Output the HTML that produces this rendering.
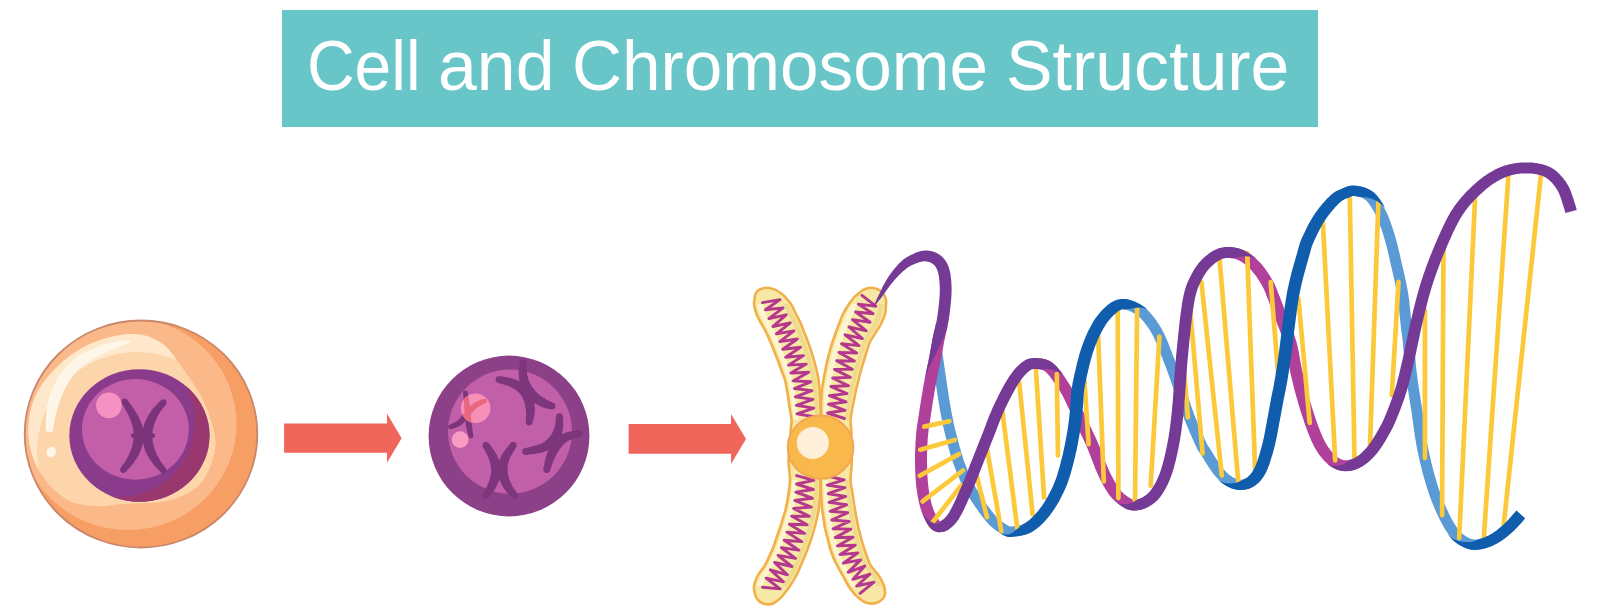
<!DOCTYPE html>
<html><head><meta charset="utf-8">
<title>Cell and Chromosome Structure</title>
<style>
html,body{margin:0;padding:0;background:#fff;}
body{width:1600px;height:614px;position:relative;overflow:hidden;font-family:"Liberation Sans",sans-serif;}
#banner{position:absolute;left:282px;top:10px;width:1036px;height:117px;background:#68c6c9;}
.tw{position:absolute;top:21px;height:90px;line-height:90px;font-size:70px;color:#fff;white-space:nowrap;transform-origin:0 50%;}
svg{position:absolute;left:0;top:0;}
</style></head>
<body>
<div id="banner"></div>
<div id="title"><span class="tw" style="left:307.2px;transform:scaleX(0.942)">Cell</span><span class="tw" style="left:438px;transform:scaleX(0.997)">and</span><span class="tw" style="left:571.7px;transform:scaleX(0.990)">Chromosome</span><span class="tw" style="left:1006px;transform:scaleX(0.998)">Structure</span></div>
<svg width="1600" height="614" viewBox="0 0 1600 614">
<g id="cell1">
<defs><clipPath id="c1clip"><ellipse cx="141" cy="434" rx="116.3" ry="113.5"/></clipPath><clipPath id="c1in"><path d="M28.5 436C27.7 423.5 30.1 408.7 35 397C39.9 385.3 48.8 374.8 58 366C67.2 357.2 78 349.3 90 344C102 338.7 118.3 334.3 130 334C141.7 333.7 151.5 336.7 160 342C168.5 347.3 173.8 356.3 181 366C188.2 375.7 197.3 388.3 203 400C208.7 411.7 213.5 425.7 215 436C216.5 446.3 214.5 454 212 462C209.5 470 205 478.3 200 484C195 489.7 188.7 493 182 496C175.3 499 169.7 500.7 160 502C150.3 503.3 134.8 503.3 124 504C113.2 504.7 104.7 506.8 95 506C85.3 505.2 75.2 504.7 66 499C56.8 493.3 46.2 482.5 40 472C33.8 461.5 29.3 448.5 28.5 436Z"/></clipPath><clipPath id="n1clip"><ellipse cx="139.4" cy="435.5" rx="70.1" ry="66.2"/></clipPath></defs>
<ellipse cx="141" cy="434" rx="116.3" ry="113.5" fill="#f79e65"/>
<g clip-path="url(#c1clip)">
<ellipse cx="128" cy="424" rx="108.5" ry="106" fill="#fbb98a"/>
<path d="M28.5 436C27.7 423.5 30.1 408.7 35 397C39.9 385.3 48.8 374.8 58 366C67.2 357.2 78 349.3 90 344C102 338.7 118.3 334.3 130 334C141.7 333.7 151.5 336.7 160 342C168.5 347.3 173.8 356.3 181 366C188.2 375.7 197.3 388.3 203 400C208.7 411.7 213.5 425.7 215 436C216.5 446.3 214.5 454 212 462C209.5 470 205 478.3 200 484C195 489.7 188.7 493 182 496C175.3 499 169.7 500.7 160 502C150.3 503.3 134.8 503.3 124 504C113.2 504.7 104.7 506.8 95 506C85.3 505.2 75.2 504.7 66 499C56.8 493.3 46.2 482.5 40 472C33.8 461.5 29.3 448.5 28.5 436Z" fill="#fdd5ab"/>
<path clip-path="url(#c1in)" fill-rule="evenodd" fill="#fee7cb" d="M0 280H300V600H0ZM37 452A100 100 0 1 0 237 452A100 100 0 1 0 37 452Z"/>
<path d="M51.7 431.3L52 430.1L52.4 428.6L52.7 426.8L53.1 424.8L53.5 422.7L53.9 420.5L54.4 418.2L54.9 415.8L55.4 413.5L56 411.3L56.6 409.3L57.2 407.4L57.7 405.5L58.3 403.5L58.9 401.6L59.6 399.7L60.2 397.8L60.9 395.9L61.7 394.1L62.5 392.2L63.3 390.4L64.2 388.7L65.1 387L66 385.3L67 383.6L68 381.9L69.1 380.2L70.2 378.5L71.4 376.8L72.5 375.2L73.8 373.6L75 372.1L76.3 370.6L77.6 369.2L79 367.9L80.3 366.6L81.7 365.5L83.1 364.3L84.6 363.2L86.3 362.2L87.9 361.2L89.6 360.2L91.4 359.2L93.1 358.3L94.8 357.4L96.5 356.6L98.2 355.7L99.8 354.9L101.3 354.1L102.7 353.4L104.1 352.7L105.4 352.1L106.8 351.5L108.1 350.9L109.4 350.4L110.7 349.9L112 349.3L113.3 348.8L114.6 348.3L115.8 347.8L117.1 347.2L118.4 346.6L119.7 346L121 345.4L122.4 344.8L123.7 344.2L124.9 343.7L126.1 343.2L127.2 342.7L128.1 342.2L128.9 341.8L129.6 341.4L129.4 341L128.7 341L127.8 341L126.7 341.1L125.6 341.1L124.3 341.2L122.9 341.4L121.5 341.5L120 341.7L118.5 341.9L117.1 342.1L115.6 342.4L114.2 342.6L112.8 342.9L111.5 343.3L110.1 343.6L108.7 344L107.3 344.4L105.9 344.8L104.4 345.3L102.9 345.7L101.4 346.3L99.8 346.8L98.2 347.4L96.6 348.1L95 348.8L93.3 349.5L91.5 350.3L89.6 351.1L87.7 352L85.8 352.9L83.9 353.8L81.9 354.9L80 356L78.1 357.1L76.3 358.4L74.5 359.8L72.8 361.2L71.2 362.7L69.6 364.3L68.1 365.9L66.5 367.6L65.1 369.3L63.7 371.1L62.3 372.9L61 374.7L59.7 376.6L58.5 378.4L57.4 380.3L56.3 382.3L55.3 384.2L54.4 386.3L53.5 388.3L52.6 390.4L51.8 392.4L51.1 394.5L50.4 396.6L49.7 398.7L49.1 400.8L48.5 402.9L48 405L47.6 407.3L47.4 409.8L47.1 412.2L47 414.7L46.8 417.2L46.7 419.7L46.7 422L46.6 424.2L46.6 426.2L46.6 428L46.7 429.5L46.7 430.7Z" fill="#fff6ea" stroke="#fff6ea" stroke-width="1.5" stroke-linejoin="round"/>
<ellipse cx="51.3" cy="452" rx="4.6" ry="5.4" fill="#fff6ea" transform="rotate(20 51.3 452)"/>
</g>
<ellipse cx="141" cy="434" rx="116.3" ry="113.5" fill="none" stroke="#c9876b" stroke-width="1.8"/>
<ellipse cx="139.4" cy="435.5" rx="70.1" ry="66.2" fill="#8b3b8c"/>
<path clip-path="url(#n1clip)" fill-rule="evenodd" fill="#98386f" d="M40 340H240V530H40ZM42.5 421A76 76 0 1 0 194.5 421A76 76 0 1 0 42.5 421Z"/>
<ellipse cx="135.4" cy="429.4" rx="53.4" ry="50.3" fill="#c35fa9"/>
<circle cx="108.9" cy="405.4" r="12.8" fill="#f592c3"/>
<path d="M122 403.4L122.3 404L122.7 404.8L123.2 405.6L123.8 406.6L124.4 407.7L125 408.8L125.7 409.9L126.3 411L126.9 412.2L127.5 413.3L128 414.3L128.5 415.3L128.9 416.3L129.3 417.2L129.8 418.2L130.2 419.2L130.6 420.2L130.9 421.1L131.3 422.1L131.6 423L131.9 423.9L132.1 424.8L132.4 425.6L132.6 426.5L132.8 427.3L133 428.1L133.1 428.8L133.3 429.5L133.4 430.2L133.5 430.9L133.6 431.6L133.6 432.2L133.6 432.9L133.6 433.7L133.6 434.4L133.6 435.3L133.6 436.1L133.5 437.1L133.5 438.1L133.4 439.1L133.3 440.1L133.1 441.1L133 442.2L132.8 443.2L132.6 444.3L132.4 445.3L132.1 446.2L131.9 447.1L131.6 448L131.4 448.9L131 449.9L130.7 450.8L130.3 451.7L129.9 452.6L129.5 453.6L129 454.5L128.5 455.4L128.1 456.4L127.6 457.3L127.1 458.2L126.7 459L126.1 459.9L125.6 460.8L125 461.7L124.3 462.7L123.7 463.6L123.1 464.4L122.5 465.3L122 466L121.5 466.7L121.1 467.4L120.8 467.9L125.6 471.7L126 471.3L126.5 470.9L127.1 470.3L127.8 469.6L128.5 468.8L129.2 468L130 467.1L130.8 466.2L131.6 465.3L132.4 464.3L133.2 463.4L133.9 462.4L134.5 461.5L135.1 460.6L135.8 459.7L136.4 458.7L137 457.7L137.6 456.7L138.2 455.7L138.8 454.6L139.4 453.5L139.9 452.4L140.4 451.2L140.9 450.1L141.3 448.9L141.7 447.7L142 446.4L142.3 445.2L142.5 443.9L142.8 442.7L143 441.4L143.2 440.2L143.3 439L143.4 437.8L143.5 436.7L143.6 435.5L143.6 434.5L143.6 433.4L143.5 432.4L143.4 431.4L143.3 430.4L143.1 429.4L142.9 428.5L142.7 427.5L142.5 426.6L142.2 425.6L142 424.7L141.6 423.7L141.3 422.7L140.8 421.7L140.4 420.7L139.9 419.6L139.4 418.6L138.9 417.6L138.4 416.5L137.8 415.5L137.3 414.5L136.7 413.5L136.1 412.5L135.5 411.5L134.9 410.4L134.1 409.3L133.4 408.2L132.6 407.1L131.8 406L131 404.9L130.2 403.8L129.4 402.9L128.8 402L128.1 401.2L127.6 400.5L127.2 400Z" fill="#7b3379"/>
<circle cx="124.6" cy="401.7" r="3.1" fill="#7b3379"/>
<circle cx="123.2" cy="469.8" r="3.1" fill="#7b3379"/>
<path d="M161 400.4L160.6 400.8L160.1 401.2L159.4 401.8L158.7 402.5L157.9 403.3L157.1 404.1L156.2 405L155.4 405.9L154.5 406.9L153.6 407.8L152.8 408.8L152.1 409.8L151.4 410.7L150.7 411.7L150.1 412.7L149.4 413.7L148.8 414.7L148.2 415.7L147.6 416.8L147 417.8L146.5 418.9L146 420L145.5 421.1L145 422.1L144.6 423.2L144.3 424.2L144 425.3L143.6 426.3L143.4 427.4L143.1 428.5L142.9 429.6L142.7 430.7L142.5 431.9L142.4 433L142.3 434.2L142.3 435.4L142.3 436.6L142.4 437.8L142.5 439.1L142.7 440.3L142.9 441.6L143.1 442.8L143.3 444.1L143.6 445.3L143.9 446.5L144.2 447.7L144.6 448.9L145 450.1L145.4 451.2L145.9 452.4L146.5 453.5L147 454.6L147.6 455.6L148.2 456.7L148.8 457.7L149.4 458.7L150.1 459.6L150.7 460.6L151.4 461.5L152 462.5L152.8 463.5L153.6 464.5L154.4 465.5L155.3 466.5L156.2 467.4L157 468.4L157.9 469.3L158.6 470.1L159.4 470.8L160 471.5L160.6 472L161 472.4L165.8 468.6L165.5 468L165 467.3L164.5 466.6L163.9 465.7L163.2 464.8L162.5 463.9L161.8 462.9L161.1 461.9L160.4 460.9L159.8 459.9L159.3 459L158.8 458.1L158.3 457.2L157.8 456.3L157.3 455.4L156.8 454.5L156.4 453.5L156 452.6L155.6 451.7L155.2 450.8L154.9 449.9L154.5 448.9L154.3 448L154 447.1L153.7 446.2L153.5 445.2L153.3 444.2L153.1 443.2L152.9 442.2L152.7 441.2L152.6 440.2L152.5 439.2L152.4 438.2L152.3 437.2L152.3 436.3L152.3 435.4L152.3 434.5L152.3 433.7L152.4 432.9L152.4 432L152.5 431.2L152.7 430.4L152.8 429.6L153 428.7L153.2 427.9L153.5 427L153.7 426.2L154 425.3L154.2 424.4L154.5 423.5L154.9 422.5L155.2 421.6L155.6 420.7L156 419.7L156.4 418.8L156.9 417.8L157.3 416.9L157.8 416L158.3 415.1L158.7 414.2L159.2 413.4L159.8 412.5L160.4 411.6L161.1 410.7L161.7 409.7L162.4 408.8L163.1 407.9L163.8 407.1L164.4 406.3L164.9 405.6L165.4 405L165.8 404.4Z" fill="#7b3379"/>
<circle cx="163.4" cy="402.4" r="3.1" fill="#7b3379"/>
<circle cx="163.4" cy="470.5" r="3.1" fill="#7b3379"/>
<path d="M133.5 435.4L152.5 435.4" stroke="#7b3379" stroke-width="5" stroke-linecap="round"/>
</g>
<path d="M284.1 423.5H387V413.4L401.6 438.2L387 462.8V452.8H284.1Z" fill="#f1665a"/>
<path d="M628.6 424.1H731V414.1L746 439L731 463.9V453.7H628.6Z" fill="#f1665a"/>
<g id="cell2">
<defs><clipPath id="spotclip"><circle cx="475.6" cy="408.3" r="14.8"/></clipPath></defs>
<circle cx="509" cy="436" r="80.4" fill="#8c4088"/>
<circle cx="510" cy="431.6" r="62" fill="#c25fa9"/>
<path d="M498.2 382.9L498.9 383.1L499.7 383.4L500.6 383.7L501.6 383.9L502.7 384.2L503.9 384.6L505 384.9L506.2 385.3L507.3 385.6L508.3 386L509.3 386.4L510.1 386.8L510.9 387.2L511.8 387.6L512.7 388.1L513.5 388.6L514.3 389.1L515.1 389.6L515.8 390.1L516.6 390.6L517.2 391.1L517.8 391.7L518.4 392.2L518.9 392.7L519.4 393.3L519.9 393.8L520.4 394.4L520.8 394.9L521.3 395.5L521.7 396.1L522.1 396.8L522.4 397.5L522.8 398.1L523.1 398.9L523.4 399.6L523.7 400.4L524 401.1L524.3 401.9L524.5 402.8L524.8 403.7L525 404.7L525.2 405.7L525.4 406.7L525.6 407.7L525.7 408.7L525.8 409.7L525.9 410.6L526 411.5L526.1 412.3L526.1 413.2L526.2 414.1L526.1 415L526.1 415.9L526 416.9L526 417.8L525.9 418.7L525.8 419.5L525.8 420.2L525.7 420.9L525.7 421.5L532.5 422.5L532.6 422L532.8 421.5L533 420.8L533.2 420L533.5 419.1L533.7 418.1L534 417.1L534.2 416L534.4 414.8L534.6 413.7L534.7 412.5L534.8 411.3L534.8 410.2L534.8 409L534.7 407.9L534.6 406.7L534.5 405.5L534.4 404.3L534.2 403.1L534.1 401.8L533.8 400.6L533.6 399.4L533.3 398.2L532.9 397L532.5 396L532.1 394.9L531.6 393.9L531.1 392.9L530.6 391.9L530 391L529.4 390L528.7 389.1L528 388.2L527.3 387.3L526.5 386.5L525.7 385.7L524.8 384.9L523.8 384.2L522.8 383.5L521.8 382.8L520.8 382.2L519.8 381.6L518.7 381.1L517.6 380.6L516.6 380.1L515.5 379.6L514.4 379.2L513.3 378.8L512.1 378.4L510.8 378.1L509.5 377.8L508.1 377.5L506.8 377.3L505.5 377L504.3 376.9L503.1 376.7L502.1 376.5L501.1 376.4L500.4 376.4L499.8 376.3Z" fill="#7d357c"/>
<circle cx="499" cy="379.6" r="3.4" fill="#7d357c"/>
<circle cx="529.1" cy="422" r="3.4" fill="#7d357c"/>
<path d="M520 362.5L519.9 363.1L519.8 363.8L519.6 364.7L519.5 365.7L519.3 366.9L519.1 368.1L519 369.3L518.9 370.7L518.8 372L518.7 373.3L518.7 374.6L518.7 375.9L518.9 377.1L519 378.2L519.2 379.4L519.4 380.5L519.6 381.6L519.9 382.8L520.2 383.9L520.6 385L520.9 386.1L521.3 387.1L521.8 388.2L522.3 389.3L522.8 390.3L523.4 391.3L524 392.3L524.7 393.3L525.4 394.2L526.1 395.1L526.8 396L527.5 396.9L528.3 397.8L529.1 398.6L529.8 399.4L530.7 400.2L531.5 400.9L532.5 401.6L533.4 402.3L534.3 402.9L535.3 403.5L536.2 404.1L537.1 404.6L538 405.1L538.9 405.6L539.8 406L540.6 406.4L541.5 406.8L542.4 407.2L543.4 407.5L544.3 407.8L545.3 408.1L546.2 408.4L547.1 408.6L547.9 408.8L548.7 408.9L549.4 409.1L550 409.2L550.5 409.3L550.9 409.3L553.1 402.9L552.7 402.7L552.2 402.4L551.6 402.1L551 401.8L550.3 401.5L549.6 401.2L548.9 400.9L548.2 400.5L547.4 400.1L546.8 399.8L546.1 399.4L545.5 399L544.8 398.6L544.1 398.1L543.4 397.7L542.6 397.2L541.9 396.7L541.2 396.2L540.5 395.7L539.8 395.2L539.1 394.7L538.5 394.1L537.9 393.6L537.3 393L536.7 392.4L536.1 391.8L535.5 391.2L534.9 390.5L534.4 389.8L533.8 389.1L533.3 388.4L532.7 387.7L532.2 386.9L531.8 386.2L531.3 385.5L530.9 384.7L530.5 384L530.1 383.3L529.7 382.5L529.4 381.7L529 380.9L528.7 380L528.4 379.2L528.1 378.3L527.9 377.5L527.6 376.6L527.4 375.7L527.3 374.9L527.1 374L527 373.1L526.9 372L526.8 370.9L526.8 369.7L526.8 368.6L526.8 367.4L526.8 366.3L526.8 365.3L526.8 364.4L526.8 363.5L526.8 362.9Z" fill="#7d357c"/>
<circle cx="523.4" cy="362.7" r="3.4" fill="#7d357c"/>
<circle cx="552" cy="406.1" r="3.4" fill="#7d357c"/>
<path d="M556 416.6L555.9 417.2L555.8 417.9L555.7 418.8L555.7 419.7L555.6 420.7L555.5 421.7L555.4 422.8L555.3 423.8L555.1 424.8L554.9 425.8L554.7 426.6L554.5 427.4L554.3 428.2L554 429L553.7 429.8L553.4 430.6L553.1 431.3L552.8 432.1L552.4 432.8L552 433.4L551.6 434.1L551.2 434.7L550.8 435.3L550.2 435.9L549.7 436.6L549.2 437.3L548.6 438L548 438.7L547.3 439.3L546.6 440L545.9 440.6L545.2 441.2L544.4 441.8L543.5 442.4L542.7 442.9L541.8 443.4L540.7 443.9L539.5 444.3L538 444.8L536.5 445.3L534.8 445.8L533.1 446.2L531.4 446.6L529.8 447L528.3 447.4L526.9 447.7L525.7 448L524.8 448.3L526.2 454.9L527.1 454.8L528.2 454.7L529.6 454.5L531.1 454.3L532.8 454.1L534.6 453.9L536.4 453.6L538.3 453.2L540.2 452.9L541.9 452.5L543.7 452L545.2 451.4L546.7 450.8L548 450.2L549.2 449.4L550.4 448.7L551.6 447.9L552.6 447.1L553.6 446.3L554.6 445.4L555.5 444.6L556.4 443.7L557.2 442.8L558 441.9L558.7 440.9L559.3 439.8L559.9 438.8L560.4 437.7L560.9 436.6L561.3 435.5L561.6 434.5L562 433.4L562.2 432.3L562.5 431.3L562.7 430.3L562.9 429.2L563.1 428.1L563.2 426.8L563.2 425.6L563.2 424.3L563.2 423.1L563.2 421.9L563.1 420.8L563.1 419.8L563 418.8L562.9 418L562.9 417.3L562.8 416.8Z" fill="#7d357c"/>
<circle cx="559.4" cy="416.7" r="3.4" fill="#7d357c"/>
<circle cx="525.5" cy="451.6" r="3.4" fill="#7d357c"/>
<path d="M578.7 430.3L578.1 430.3L577.4 430.4L576.4 430.5L575.3 430.7L574.1 430.9L572.9 431L571.5 431.3L570.2 431.5L568.9 431.8L567.6 432.1L566.3 432.5L565.1 432.9L564.1 433.3L563.1 433.7L562.2 434.1L561.3 434.6L560.4 435.1L559.5 435.6L558.7 436.2L557.8 436.9L557 437.6L556.2 438.3L555.3 439.1L554.5 440L553.8 441L553 442L552.3 443.1L551.6 444.3L551 445.5L550.3 446.7L549.7 447.9L549 449.1L548.5 450.4L547.9 451.6L547.4 452.8L546.9 454.1L546.4 455.4L546 456.8L545.6 458.2L545.2 459.6L544.9 461.1L544.6 462.5L544.3 463.8L544.1 465L543.8 466.2L543.7 467.2L543.5 468L543.4 468.7L550 470.5L550.2 469.9L550.6 469L550.9 468L551.3 466.9L551.7 465.8L552.1 464.5L552.5 463.3L553 462L553.5 460.8L554 459.6L554.4 458.5L554.9 457.5L555.4 456.5L556 455.5L556.5 454.4L557.1 453.4L557.7 452.3L558.4 451.3L559 450.3L559.6 449.4L560.3 448.5L560.9 447.6L561.5 446.9L562.1 446.2L562.6 445.6L563.1 445L563.5 444.4L564 443.9L564.5 443.5L564.9 443.1L565.4 442.7L565.9 442.3L566.5 441.9L567.1 441.5L567.8 441.1L568.5 440.7L569.2 440.4L570.1 440L571.1 439.6L572.2 439.3L573.3 438.9L574.5 438.6L575.7 438.2L576.8 437.9L577.8 437.7L578.8 437.4L579.6 437.1L580.3 436.9Z" fill="#7d357c"/>
<circle cx="579.5" cy="433.6" r="3.4" fill="#7d357c"/>
<circle cx="546.7" cy="469.6" r="3.4" fill="#7d357c"/>
<path d="M483 447.1L483.3 447.7L483.7 448.5L484.2 449.3L484.7 450.2L485.2 451.2L485.8 452.3L486.4 453.3L486.9 454.4L487.5 455.5L487.9 456.5L488.3 457.5L488.6 458.4L489 459.4L489.3 460.5L489.7 461.5L490 462.6L490.3 463.6L490.5 464.7L490.7 465.7L490.9 466.7L491 467.7L491.1 468.7L491.1 469.6L491.1 470.4L491.1 471.2L491.1 472.1L491 473.1L490.9 474.1L490.7 475.1L490.5 476.1L490.3 477.2L490 478.2L489.7 479.3L489.3 480.3L489 481.4L488.6 482.4L488.3 483.3L487.9 484.3L487.5 485.3L486.9 486.4L486.4 487.5L485.8 488.5L485.2 489.6L484.7 490.6L484.2 491.5L483.7 492.3L483.3 493.1L483 493.7L488.8 497.3L489.2 496.8L489.7 496.3L490.2 495.5L490.9 494.7L491.6 493.8L492.4 492.8L493.1 491.7L493.9 490.6L494.7 489.4L495.4 488.2L496.1 487L496.8 485.8L497.3 484.7L497.8 483.6L498.3 482.4L498.8 481.2L499.2 480L499.7 478.7L500.1 477.4L500.4 476L500.8 474.7L501 473.3L501.2 471.9L501.3 470.4L501.2 468.9L501 467.5L500.8 466.1L500.4 464.8L500.1 463.4L499.7 462.1L499.2 460.8L498.8 459.6L498.3 458.4L497.8 457.2L497.3 456.1L496.8 455L496.1 453.8L495.4 452.6L494.7 451.4L493.9 450.2L493.1 449.1L492.4 448L491.6 447L490.9 446.1L490.2 445.3L489.7 444.5L489.2 444L488.8 443.5Z" fill="#7d357c"/>
<circle cx="485.9" cy="445.3" r="3.4" fill="#7d357c"/>
<circle cx="485.9" cy="495.5" r="3.4" fill="#7d357c"/>
<path d="M510.5 443.4L510 443.9L509.5 444.6L508.8 445.4L508 446.4L507.1 447.4L506.3 448.6L505.3 449.7L504.4 451L503.6 452.2L502.7 453.5L501.9 454.8L501.3 456L500.7 457.2L500.2 458.3L499.8 459.4L499.3 460.6L498.9 461.8L498.6 463L498.3 464.2L498 465.4L497.8 466.7L497.6 468L497.5 469.3L497.5 470.6L497.7 472L497.9 473.3L498.1 474.7L498.5 476L498.9 477.3L499.3 478.6L499.7 479.9L500.2 481.2L500.7 482.4L501.3 483.7L501.8 484.8L502.4 486L503.2 487.2L504 488.5L504.8 489.7L505.7 490.8L506.6 491.9L507.5 493L508.4 494L509.2 494.9L510 495.8L510.7 496.5L511.2 497.1L511.7 497.5L517.1 493.5L516.8 492.9L516.3 492.1L515.7 491.2L515.1 490.3L514.4 489.3L513.7 488.3L513.1 487.2L512.4 486.2L511.8 485.1L511.2 484.1L510.7 483.1L510.4 482.2L510 481.2L509.6 480.2L509.3 479.2L509 478.1L508.7 477.1L508.4 476L508.2 475L508 473.9L507.8 472.9L507.7 472L507.7 471L507.7 470.2L507.6 469.3L507.6 468.5L507.6 467.7L507.6 466.8L507.7 465.9L507.8 465.1L508 464.2L508.2 463.3L508.4 462.4L508.7 461.5L509 460.5L509.3 459.6L509.7 458.6L510.1 457.6L510.7 456.5L511.3 455.4L512 454.2L512.7 453L513.4 451.8L514.1 450.7L514.7 449.7L515.3 448.7L515.8 447.9L516.1 447.2Z" fill="#7d357c"/>
<circle cx="513.3" cy="445.3" r="3.4" fill="#7d357c"/>
<circle cx="514.4" cy="495.5" r="3.4" fill="#7d357c"/>
<path d="M463.1 393.1L463.2 394L463.3 395.1L463.4 396.5L463.5 398L463.6 399.7L463.8 401.4L464 403.2L464.1 405L464.3 406.8L464.4 408.4L464.5 410L464.6 411.4L464.7 412.7L464.9 413.9L465 415.1L465 416.3L465.1 417.5L465.2 418.6L465.3 419.7L465.4 420.8L465.5 421.9L465.6 423L465.7 424.1L465.8 425.2L466.1 426.3L466.3 427.5L466.6 428.6L466.9 429.7L467.1 430.8L467.4 431.9L467.7 432.9L468 433.9L468.2 434.8L468.5 435.5L468.7 436.2L468.8 436.7L473.4 435.7L473.3 435.2L473.2 434.5L473.1 433.7L472.9 432.8L472.8 431.8L472.6 430.8L472.4 429.7L472.3 428.6L472.1 427.6L472 426.5L471.9 425.4L471.8 424.4L471.6 423.4L471.5 422.4L471.4 421.4L471.3 420.3L471.3 419.3L471.2 418.2L471.1 417L471 415.9L470.9 414.7L470.8 413.4L470.7 412.1L470.6 410.8L470.4 409.4L470.1 407.8L469.9 406.1L469.6 404.3L469.3 402.5L469.1 400.8L468.8 399L468.5 397.4L468.3 395.9L468 394.5L467.9 393.4L467.7 392.5Z" fill="#7d357c"/>
<circle cx="465.4" cy="392.8" r="2.3" fill="#7d357c"/>
<circle cx="471.1" cy="436.2" r="2.3" fill="#7d357c"/>
<path d="M451.4 429.1L451.9 429L452.4 428.8L453.1 428.6L453.9 428.3L454.7 428L455.6 427.7L456.6 427.3L457.6 426.9L458.6 426.5L459.6 426L460.6 425.4L461.5 424.8L462.4 424L463.2 423.3L464 422.5L464.7 421.6L465.4 420.8L466.1 420L466.8 419.1L467.4 418.3L468 417.5L468.7 416.8L469.3 416.1L469.9 415.4L470.5 414.7L471.2 413.9L471.8 413.2L472.4 412.5L473.1 411.8L473.7 411.1L474.3 410.5L474.9 409.9L475.5 409.3L476.1 408.7L476.7 408.2L477.3 407.8L477.9 407.3L478.6 406.8L479.3 406.3L480.1 405.9L481 405.4L481.8 405L482.6 404.6L483.4 404.2L484.1 403.8L484.7 403.5L485.3 403.2L485.8 402.9L483.8 398.7L483.4 398.9L482.8 399.1L482.2 399.3L481.4 399.6L480.5 399.9L479.6 400.2L478.7 400.6L477.7 401L476.7 401.5L475.8 402L474.8 402.5L473.9 403L473.1 403.7L472.3 404.3L471.5 404.9L470.8 405.6L470.1 406.3L469.4 407L468.7 407.7L468 408.4L467.3 409.1L466.6 409.8L466 410.5L465.3 411.2L464.6 412L463.9 412.9L463.3 413.7L462.6 414.6L462 415.4L461.4 416.3L460.8 417.1L460.2 417.8L459.6 418.5L459 419.2L458.4 419.7L457.9 420.2L457.3 420.7L456.7 421.2L456 421.6L455.2 422.1L454.4 422.5L453.6 422.9L452.8 423.3L452 423.7L451.3 424L450.6 424.3L450 424.6L449.6 424.9Z" fill="#7d357c"/>
<circle cx="450.5" cy="427" r="2.3" fill="#7d357c"/>
<circle cx="484.8" cy="400.8" r="2.3" fill="#7d357c"/>
<circle cx="475.6" cy="408.3" r="14.8" fill="#f590b6"/>
<g clip-path="url(#spotclip)">
<path d="M463.1 393.1L463.2 394L463.3 395.1L463.4 396.5L463.5 398L463.6 399.7L463.8 401.4L464 403.2L464.1 405L464.3 406.8L464.4 408.4L464.5 410L464.6 411.4L464.7 412.7L464.9 413.9L465 415.1L465 416.3L465.1 417.5L465.2 418.6L465.3 419.7L465.4 420.8L465.5 421.9L465.6 423L465.7 424.1L465.8 425.2L466.1 426.3L466.3 427.5L466.6 428.6L466.9 429.7L467.1 430.8L467.4 431.9L467.7 432.9L468 433.9L468.2 434.8L468.5 435.5L468.7 436.2L468.8 436.7L473.4 435.7L473.3 435.2L473.2 434.5L473.1 433.7L472.9 432.8L472.8 431.8L472.6 430.8L472.4 429.7L472.3 428.6L472.1 427.6L472 426.5L471.9 425.4L471.8 424.4L471.6 423.4L471.5 422.4L471.4 421.4L471.3 420.3L471.3 419.3L471.2 418.2L471.1 417L471 415.9L470.9 414.7L470.8 413.4L470.7 412.1L470.6 410.8L470.4 409.4L470.1 407.8L469.9 406.1L469.6 404.3L469.3 402.5L469.1 400.8L468.8 399L468.5 397.4L468.3 395.9L468 394.5L467.9 393.4L467.7 392.5Z" fill="#e9687f"/>
<circle cx="465.4" cy="392.8" r="2.3" fill="#e9687f"/>
<circle cx="471.1" cy="436.2" r="2.3" fill="#e9687f"/>
<path d="M451.4 429.1L451.9 429L452.4 428.8L453.1 428.6L453.9 428.3L454.7 428L455.6 427.7L456.6 427.3L457.6 426.9L458.6 426.5L459.6 426L460.6 425.4L461.5 424.8L462.4 424L463.2 423.3L464 422.5L464.7 421.6L465.4 420.8L466.1 420L466.8 419.1L467.4 418.3L468 417.5L468.7 416.8L469.3 416.1L469.9 415.4L470.5 414.7L471.2 413.9L471.8 413.2L472.4 412.5L473.1 411.8L473.7 411.1L474.3 410.5L474.9 409.9L475.5 409.3L476.1 408.7L476.7 408.2L477.3 407.8L477.9 407.3L478.6 406.8L479.3 406.3L480.1 405.9L481 405.4L481.8 405L482.6 404.6L483.4 404.2L484.1 403.8L484.7 403.5L485.3 403.2L485.8 402.9L483.8 398.7L483.4 398.9L482.8 399.1L482.2 399.3L481.4 399.6L480.5 399.9L479.6 400.2L478.7 400.6L477.7 401L476.7 401.5L475.8 402L474.8 402.5L473.9 403L473.1 403.7L472.3 404.3L471.5 404.9L470.8 405.6L470.1 406.3L469.4 407L468.7 407.7L468 408.4L467.3 409.1L466.6 409.8L466 410.5L465.3 411.2L464.6 412L463.9 412.9L463.3 413.7L462.6 414.6L462 415.4L461.4 416.3L460.8 417.1L460.2 417.8L459.6 418.5L459 419.2L458.4 419.7L457.9 420.2L457.3 420.7L456.7 421.2L456 421.6L455.2 422.1L454.4 422.5L453.6 422.9L452.8 423.3L452 423.7L451.3 424L450.6 424.3L450 424.6L449.6 424.9Z" fill="#e9687f"/>
<circle cx="450.5" cy="427" r="2.3" fill="#e9687f"/>
<circle cx="484.8" cy="400.8" r="2.3" fill="#e9687f"/>
</g>
<circle cx="460.1" cy="439.6" r="8.4" fill="#f89cc4"/>
</g>
<g id="chromo">
<path d="M791 450C785.9 455 790.3 473.3 790 480C789.7 486.7 789.4 486.7 789 490C788.6 493.3 788.1 496.7 787.5 500C786.9 503.3 786.2 507 785.5 510C784.8 513 783.9 515 783 518C782.1 521 781.1 524.7 780 528C778.9 531.3 777.7 534.7 776.5 538C775.3 541.3 774.3 544.7 773 548C771.7 551.3 769.9 555 768.5 558C767.1 561 766.3 563 764.5 566C762.7 569 759.2 572.7 757.5 576C755.8 579.3 754.4 583 754 586C753.6 589 754.4 591.8 755 594C755.6 596.2 756.3 598 757.5 599.5C758.7 601 760.2 602.2 762 603C763.8 603.8 766 604.5 768 604.5C770 604.5 771.9 604.1 774 603C776.1 601.9 778.8 599.5 780.5 598C782.2 596.5 782.4 596 784 594C785.6 592 788 589 790 586C792 583 794.2 579.3 796 576C797.8 572.7 799.2 569 800.5 566C801.8 563 802.8 561 804 558C805.2 555 806.8 551.3 808 548C809.2 544.7 810.4 541.3 811.5 538C812.6 534.7 813.6 531.3 814.5 528C815.4 524.7 816.3 521 817 518C817.7 515 818.1 513 818.5 510C818.9 507 819.3 503.3 819.6 500C819.9 496.7 820.1 493.3 820.2 490C820.3 486.7 820.4 486.7 820.4 480C820.4 473.3 825.3 455 820.4 450C815.5 445 796.1 445 791 450Z" fill="#f7e8a6" stroke="#f1b04a" stroke-width="2.6" stroke-linejoin="round"/>
<path d="M792.4 480C792.3 481.7 791.9 486.7 791.5 490C791.1 493.3 790.6 496.7 790.1 500C789.5 503.3 788.9 507 788.1 510C787.4 513 786.6 515 785.7 518C784.8 521 783.8 524.7 782.8 528C781.7 531.3 780.5 534.7 779.3 538C778.1 541.3 777.1 544.7 775.8 548C774.5 551.3 772.7 555 771.3 558C769.9 561 769.2 563 767.4 566C765.6 569 762.3 572.7 760.6 576C758.8 579.3 757.5 584.3 756.9 586L762.6 586C763.3 584.3 765 579.3 766.7 576C768.5 572.7 771.4 569 773.1 566C774.9 563 775.6 561 777 558C778.4 555 780.1 551.3 781.4 548C782.7 544.7 783.8 541.3 784.9 538C786 534.7 787.2 531.3 788.3 528C789.3 524.7 790.3 521 791.2 518C792 515 792.7 513 793.4 510C794.1 507 794.7 503.3 795.2 500C795.7 496.7 796.1 493.3 796.5 490C796.8 486.7 797.2 481.7 797.3 480Z" fill="#fcf5cf"/>
<path d="M814.3 480C814.3 481.7 814.1 486.7 814 490C813.8 493.3 813.5 496.7 813.2 500C812.8 503.3 812.4 507 811.9 510C811.4 513 810.9 515 810.2 518C809.5 521 808.6 524.7 807.6 528C806.6 531.3 805.6 534.7 804.5 538C803.4 541.3 802.3 544.7 801 548C799.7 551.3 798.2 555 796.9 558C795.6 561 794.7 563 793.3 566C791.9 569 790 572.7 788.3 576C786.5 579.3 783.7 584.3 782.8 586L787.5 586C788.5 584.3 791.6 579.3 793.3 576C795.1 572.7 796.6 569 798 566C799.3 563 800.3 561 801.5 558C802.8 555 804.3 551.3 805.5 548C806.8 544.7 808 541.3 809 538C810.1 534.7 811.2 531.3 812.1 528C813 524.7 813.9 521 814.6 518C815.3 515 815.7 513 816.2 510C816.6 507 817 503.3 817.4 500C817.7 496.7 817.9 493.3 818 490C818.2 486.7 818.2 481.7 818.3 480Z" fill="#efdb8e"/>
<path d="M820.8 450C816 455 820.8 473.3 820.8 480C820.8 486.7 820.9 486.7 821 490C821.1 493.3 821.2 496.7 821.4 500C821.6 503.3 821.9 507 822.2 510C822.6 513 823 515 823.5 518C824 521 824.3 524.7 825 528C825.7 531.3 826.7 534.7 827.5 538C828.3 541.3 829 544.7 830 548C831 551.3 832.2 555 833.5 558C834.8 561 835.9 563 837.5 566C839.1 569 841.2 572.7 843 576C844.8 579.3 846.6 583 848.5 586C850.4 589 852.7 591.9 854.5 594C856.3 596.1 857.8 597.1 859.5 598.5C861.2 599.9 862.9 601.4 865 602.3C867.1 603.1 869.8 603.6 872 603.6C874.2 603.6 876.7 602.9 878.5 602C880.3 601.1 881.9 599.8 883 598.5C884.1 597.2 884.8 596.1 885 594C885.2 591.9 885 589 884 586C883 583 881.2 579.3 879 576C876.8 572.7 872.9 569 871 566C869.1 563 868.7 561 867.5 558C866.3 555 865.1 551.3 864 548C862.9 544.7 861.9 541.3 861 538C860.1 534.7 859.2 531.3 858.5 528C857.8 524.7 857.1 521 856.5 518C855.9 515 855.5 513 855 510C854.5 507 854 503.3 853.5 500C853 496.7 852.5 493.3 852 490C851.5 486.7 850.9 486.7 850.5 480C850.1 473.3 854.5 455 849.5 450C844.5 445 825.6 445 820.8 450Z" fill="#f7e8a6" stroke="#f1b04a" stroke-width="2.6" stroke-linejoin="round"/>
<path d="M823.2 480C823.2 481.7 823.3 486.7 823.5 490C823.6 493.3 823.7 496.7 824 500C824.2 503.3 824.5 507 824.8 510C825.2 513 825.7 515 826.1 518C826.6 521 827 524.7 827.7 528C828.4 531.3 829.3 534.7 830.2 538C831 541.3 831.7 544.7 832.7 548C833.7 551.3 835 555 836.2 558C837.5 561 838.6 563 840.2 566C841.8 569 844 572.7 845.9 576C847.7 579.3 850.4 584.3 851.3 586L857 586C856.1 584.3 853.6 579.3 851.6 576C849.7 572.7 847.2 569 845.5 566C843.9 563 842.9 561 841.7 558C840.4 555 839.2 551.3 838.2 548C837.1 544.7 836.4 541.3 835.5 538C834.7 534.7 833.7 531.3 833 528C832.4 524.7 831.9 521 831.4 518C830.9 515 830.5 513 830.1 510C829.7 507 829.4 503.3 829.1 500C828.8 496.7 828.6 493.3 828.4 490C828.2 486.7 828 481.7 827.9 480Z" fill="#fcf5cf"/>
<path d="M844.6 480C844.8 481.7 845.4 486.7 845.8 490C846.2 493.3 846.6 496.7 847.1 500C847.5 503.3 848 507 848.4 510C848.9 513 849.3 515 849.9 518C850.5 521 851.1 524.7 851.8 528C852.5 531.3 853.4 534.7 854.3 538C855.2 541.3 856.1 544.7 857.2 548C858.3 551.3 859.5 555 860.7 558C861.9 561 862.4 563 864.3 566C866.1 569 869.7 572.7 871.8 576C873.9 579.3 876 584.3 876.9 586L881.5 586C880.7 584.3 878.6 579.3 876.5 576C874.3 572.7 870.5 569 868.7 566C866.8 563 866.3 561 865.1 558C863.9 555 862.7 551.3 861.6 548C860.5 544.7 859.6 541.3 858.7 538C857.7 534.7 856.9 531.3 856.2 528C855.4 524.7 854.8 521 854.2 518C853.6 515 853.2 513 852.7 510C852.2 507 851.7 503.3 851.3 500C850.8 496.7 850.3 493.3 849.8 490C849.4 486.7 848.7 481.7 848.4 480Z" fill="#efdb8e"/>
<path d="M755.5 294C756.3 292.3 757.6 290.6 759.5 289.6C761.4 288.6 764.4 287.8 767 287.8C769.6 287.8 772.5 288.6 775 289.6C777.5 290.6 780.2 292.6 782 294C783.8 295.4 784.5 296.3 786 298C787.5 299.7 789.3 301.3 791 304C792.7 306.7 794.3 310.7 796 314C797.7 317.3 799.7 321 801 324C802.3 327 802.8 329 804 332C805.2 335 806.8 338.7 808 342C809.2 345.3 810.4 348.7 811.5 352C812.6 355.3 813.6 358.7 814.5 362C815.4 365.3 816.3 369 817 372C817.7 375 818.1 377 818.5 380C818.9 383 819.2 386.7 819.5 390C819.8 393.3 820.1 396.7 820.3 400C820.5 403.3 820.5 406.7 820.6 410C820.7 413.3 820.6 415 820.6 420C820.6 425 825.2 436.7 820.6 440C816 443.3 797.9 443.3 793 440C788.1 436.7 792 425 791.5 420C791 415 790.5 413.3 790 410C789.5 406.7 789 403.3 788.5 400C788 396.7 787.6 393.3 787 390C786.4 386.7 785.8 383 785 380C784.2 377 783.1 375 782 372C780.9 369 779.8 365.3 778.5 362C777.2 358.7 775.8 355.3 774.5 352C773.2 348.7 771.9 345.3 770.5 342C769.1 338.7 767.5 335 766 332C764.5 329 763.1 327 761.5 324C759.9 321 757.8 317.3 756.5 314C755.2 310.7 754.3 306.3 754 304C753.7 301.7 754.2 301.7 754.5 300C754.8 298.3 754.7 295.7 755.5 294Z" fill="#f7e8a6" stroke="#f1b04a" stroke-width="2.6" stroke-linejoin="round"/>
<path d="M757 304C757.4 305.7 758.4 310.7 759.7 314C760.9 317.3 763.1 321 764.7 324C766.2 327 767.6 329 769 332C770.5 335 772.1 338.7 773.5 342C774.9 345.3 776.1 348.7 777.5 352C778.8 355.3 780.2 358.7 781.4 362C782.6 365.3 783.8 369 784.8 372C785.8 375 786.9 377 787.7 380C788.5 383 789 386.7 789.6 390C790.2 393.3 790.6 396.7 791 400C791.5 403.3 792 406.7 792.4 410C792.9 413.3 793.6 418.3 793.8 420L798.5 420C798.3 418.3 797.7 413.3 797.3 410C797 406.7 796.6 403.3 796.1 400C795.7 396.7 795.3 393.3 794.8 390C794.3 386.7 793.8 383 793 380C792.3 377 791.4 375 790.4 372C789.4 369 788.3 365.3 787.1 362C786 358.7 784.7 355.3 783.4 352C782.1 348.7 780.9 345.3 779.5 342C778.1 338.7 776.5 335 775.1 332C773.7 329 772.5 327 771 324C769.5 321 767.3 317.3 766 314C764.6 310.7 763.4 305.7 762.9 304Z" fill="#fcf5cf"/>
<path d="M783.6 304C784.4 305.7 786.5 310.7 788.1 314C789.7 317.3 791.7 321 793.1 324C794.5 327 795.2 329 796.4 332C797.6 335 799.2 338.7 800.5 342C801.8 345.3 803 348.7 804.1 352C805.2 355.3 806.3 358.7 807.3 362C808.3 365.3 809.2 369 810 372C810.8 375 811.3 377 811.8 380C812.3 383 812.6 386.7 813 390C813.4 393.3 813.7 396.7 813.9 400C814.2 403.3 814.3 406.7 814.5 410C814.6 413.3 814.7 418.3 814.8 420L818.6 420C818.5 418.3 818.5 413.3 818.5 410C818.4 406.7 818.3 403.3 818.1 400C817.9 396.7 817.5 393.3 817.2 390C816.9 386.7 816.6 383 816.2 380C815.7 377 815.2 375 814.5 372C813.9 369 812.9 365.3 812 362C811 358.7 810 355.3 808.9 352C807.8 348.7 806.6 345.3 805.4 342C804.1 338.7 802.5 335 801.3 332C800.2 329 799.6 327 798.2 324C796.9 321 794.9 317.3 793.2 314C791.6 310.7 789.2 305.7 788.4 304Z" fill="#efdb8e"/>
<path d="M858 294C859.7 292.6 861.3 290.6 863.5 289.6C865.7 288.6 868.5 287.8 871 287.8C873.5 287.8 876.4 288.6 878.5 289.6C880.6 290.6 882.2 292.3 883.5 294C884.8 295.7 885.6 298.3 886 300C886.4 301.7 886.2 301.7 886 304C885.8 306.3 885.8 310.7 885 314C884.2 317.3 882.5 321 881 324C879.5 327 877.8 329 876 332C874.2 335 871.6 338.7 870 342C868.4 345.3 867.6 348.7 866.5 352C865.4 355.3 864.5 358.7 863.5 362C862.5 365.3 861.3 369 860.5 372C859.7 375 859.2 377 858.5 380C857.8 383 856.8 386.7 856 390C855.2 393.3 854.7 396.7 854 400C853.3 403.3 852.6 406.7 852 410C851.4 413.3 851 415 850.5 420C850 425 853.9 436.7 849 440C844.1 443.3 825.7 443.3 821 440C816.3 436.7 821 425 821 420C821 415 821 413.3 821 410C821 406.7 821.1 403.3 821.2 400C821.3 396.7 821.4 393.3 821.8 390C822.2 386.7 823 383 823.5 380C824 377 824.4 375 825 372C825.6 369 826.2 365.3 827 362C827.8 358.7 828.6 355.3 829.5 352C830.4 348.7 831.4 345.3 832.5 342C833.6 338.7 834.9 335 836 332C837.1 329 837.8 327 839 324C840.2 321 841.3 317.3 843 314C844.7 310.7 847.2 306.7 849 304C850.8 301.3 852 299.7 853.5 298C855 296.3 856.3 295.4 858 294Z" fill="#f7e8a6" stroke="#f1b04a" stroke-width="2.6" stroke-linejoin="round"/>
<path d="M852 304C851 305.7 848 310.7 846.4 314C844.8 317.3 843.6 321 842.4 324C841.2 327 840.3 329 839.2 332C838.1 335 836.6 338.7 835.5 342C834.4 345.3 833.4 348.7 832.5 352C831.5 355.3 830.7 358.7 829.9 362C829.1 365.3 828.4 369 827.8 372C827.2 375 826.9 377 826.3 380C825.7 383 824.9 386.7 824.5 390C824.1 393.3 824 396.7 823.8 400C823.6 403.3 823.6 406.7 823.5 410C823.4 413.3 823.4 418.3 823.4 420L828.1 420C828.1 418.3 828.3 413.3 828.4 410C828.6 406.7 828.8 403.3 829.1 400C829.3 396.7 829.5 393.3 830 390C830.5 386.7 831.3 383 831.9 380C832.5 377 832.9 375 833.5 372C834.2 369 835 365.3 835.8 362C836.6 358.7 837.4 355.3 838.4 352C839.3 348.7 840.3 345.3 841.5 342C842.7 338.7 844.3 335 845.6 332C846.9 329 847.8 327 849.1 324C850.3 321 851.6 317.3 853.1 314C854.5 310.7 857.1 305.7 857.9 304Z" fill="#fcf5cf"/>
<path d="M878.6 304C878.3 305.7 877.6 310.7 876.6 314C875.6 317.3 874 321 872.6 324C871.2 327 869.7 329 868 332C866.3 335 864 338.7 862.5 342C861 345.3 860.1 348.7 859.1 352C858.1 355.3 857.2 358.7 856.2 362C855.2 365.3 854.2 369 853.4 372C852.6 375 852.2 377 851.5 380C850.8 383 849.8 386.7 849.2 390C848.5 393.3 848 396.7 847.4 400C846.9 403.3 846.3 406.7 845.8 410C845.3 413.3 844.8 418.3 844.6 420L848.4 420C848.7 418.3 849.3 413.3 849.8 410C850.4 406.7 851.1 403.3 851.7 400C852.3 396.7 852.9 393.3 853.6 390C854.3 386.7 855.3 383 856 380C856.8 377 857.2 375 858 372C858.8 369 860 365.3 860.9 362C861.9 358.7 862.8 355.3 863.9 352C865 348.7 865.8 345.3 867.4 342C868.9 338.7 871.4 335 873.2 332C875 329 876.6 327 878.1 324C879.5 321 881.2 317.3 882.1 314C883 310.7 883.2 305.7 883.4 304Z" fill="#efdb8e"/>
<path d="M762.4 302.6L780 299.6L765.5 309.8L783.1 307.9L768.9 318.6L786.2 314.8L772.9 326.5L790.2 322.8L776.4 333.9L793.9 330.9L779.8 341.6L797.3 339L782.8 349.3L800.5 347.3L785.7 357.2L803.4 355.6L788.5 365.1L806.2 364.1L790.9 373.1L808.6 372.3L793.1 380.9L810.8 381.8L794.4 388.5L812 390.6L795.4 396.9L813 399.4L796.3 405.3L813.8 408.1L797 413.9L814.5 416.8" fill="none" stroke="#b5388f" stroke-width="2.9" stroke-linejoin="round" stroke-linecap="round"/>
<path d="M861.9 295.4L875.9 306.2L858.3 304.1L873.2 313.8L855.6 312L870.1 322.2L852.5 319.6L866.3 330.8L848.9 326.9L862.4 338.5L845 334.8L859.1 345.6L841.5 343.8L856.7 353L838.9 352.4L854.4 361.1L836.7 360.8L852.3 369.3L834.5 369.4L850.4 377.4L832.6 378L848.5 385.8L830.8 386.5L847 393.6L829.4 395.7L846 401.9L828.4 404.2L845.1 410.3L827.6 413L844.4 418.5" fill="none" stroke="#b5388f" stroke-width="2.9" stroke-linejoin="round" stroke-linecap="round"/>
<path d="M796.7 475.6L813.8 480.3L796.5 484L813.3 489.5L795.8 492.1L812.4 498.2L794.8 500.4L811.2 507.1L793.6 508.4L809.3 516.4L791.6 516.1L807.1 524.7L789.4 524.2L804.6 533.4L786.9 532.1L801.8 541.6L784.2 540.2L798.9 550.1L781.3 547.7L795.5 558.4L778 555.4L791.9 566.5L774.6 562.5L787.4 574.8L770.3 569.8L783.4 581.8L766.1 578.1L780.1 588.9L762.5 587.2" fill="none" stroke="#b5388f" stroke-width="2.9" stroke-linejoin="round" stroke-linecap="round"/>
<path d="M826.9 476L844.2 479.8L827.3 485.1L844.9 487.7L828.2 493.7L845.7 496.4L829.1 502.4L846.6 504.8L830.1 511.3L847.8 512.7L831.6 520L849.3 521.4L833.1 528.7L850.8 529.1L835.2 537.5L853 537.3L837.4 545.9L855.2 545.2L840.1 554.6L857.8 552.9L843.3 563.2L860.7 559.9L848.1 572.3L864.7 566.1L852.9 579.4L869.9 574.2L856.7 586L874 582.2L860.1 593.3" fill="none" stroke="#b5388f" stroke-width="2.9" stroke-linejoin="round" stroke-linecap="round"/>
</g>
<ellipse cx="820.6" cy="447.2" rx="32.8" ry="31.6" fill="#f9b84c" stroke="#f3a552" stroke-width="2"/>
<circle cx="812.8" cy="442.9" r="16" fill="#fdefd9"/>
<g id="dna">
<path d="M931.1 350.8L931.2 351.6L931.3 352.5L931.5 353.5L931.6 354.7L931.8 356L932 357.4L932.2 358.8L932.4 360.4L932.6 361.9L932.9 363.5L933.1 365.2L933.3 366.8L933.6 368.5L933.8 370.1L934 371.7L934.3 373.3L934.5 374.8L934.7 376.2L934.9 377.5L935.1 378.8L935.2 380L935.4 381.1L935.6 382.2L935.7 383.3L935.9 384.3L936 385.3L936.2 386.3L936.3 387.3L936.5 388.3L936.6 389.2L936.7 390.1L936.9 391.1L937 392L937.2 392.9L937.3 393.8L937.5 394.8L937.6 395.7L937.8 396.6L937.9 397.6L938.1 398.6L938.2 399.6L938.4 400.5L938.6 401.5L938.7 402.5L938.9 403.5L939.1 404.5L939.2 405.5L939.4 406.5L939.5 407.5L939.7 408.5L939.9 409.5L940.1 410.5L940.2 411.4L940.4 412.4L940.6 413.4L940.8 414.4L941 415.4L941.1 416.3L941.3 417.3L941.5 418.3L941.7 419.2L941.9 420.1L942.1 421L942.2 421.9L942.4 422.7L942.6 423.6L942.8 424.4L942.9 425.3L943.1 426.1L943.3 427L943.5 427.8L943.7 428.7L943.9 429.6L944.1 430.6L944.4 431.5L944.6 432.5L944.9 433.5L945.1 434.6L945.4 435.7L945.7 436.8L946 438L946.3 439.2L946.6 440.4L947 441.7L947.3 443L947.7 444.4L948 445.8L948.4 447.2L948.8 448.6L949.2 450.1L949.6 451.6L950 453.1L950.5 454.6L950.9 456.1L951.4 457.6L951.8 459.1L952.3 460.6L952.8 462.1L953.3 463.5L953.9 465L954.4 466.4L954.9 467.8L955.5 469.2L956 470.6L956.5 472L957.1 473.4L957.7 474.9L958.3 476.3L958.9 477.7L959.5 479.1L960.1 480.6L960.8 482L961.4 483.4L962.1 484.9L962.8 486.3L963.6 487.7L964.3 489.2L965.1 490.6L965.9 492.1L966.7 493.5L967.6 495L968.5 496.5L969.4 498L970.4 499.5L971.3 501.1L972.4 502.6L973.4 504.2L974.5 505.7L975.5 507.3L976.6 508.8L977.7 510.3L978.7 511.8L979.8 513.2L980.9 514.6L981.9 516L982.9 517.3L983.9 518.6L984.9 519.8L985.8 520.9L986.7 522L987.6 523L988.5 524L989.4 524.9L990.3 525.8L991.2 526.6L992 527.3L992.9 528L993.7 528.7L994.5 529.3L995.3 529.9L996.1 530.5L996.9 531L997.6 531.5L998.3 531.9L999 532.3L999.7 532.7L1000.3 533.1L1000.9 533.5L1001.5 533.8L1002.1 534.1L1002.6 534.4L1003.1 534.7L1003.6 535L1004.1 535.3L1004.6 535.5L1005.1 535.8L1005.7 536L1006.3 536.2L1006.9 536.4L1007.5 536.5L1008.1 536.7L1008.7 536.7L1009.4 536.8L1010 536.8L1010.6 536.8L1011.2 536.8L1011.7 536.8L1012.3 536.7L1012.9 536.7L1013.6 536.6L1014.2 536.5L1014.9 536.4L1015.7 536.3L1016.4 536.2L1017.3 536.1L1018.2 536L1019.1 535.9L1020 535.7L1020.9 535.5L1021.9 535.3L1022.9 535.1L1024 534.8L1025 534.5L1026.1 534.2L1027.1 533.8L1028.2 533.4L1029.2 532.9L1024.8 523.5L1024.1 523.8L1023.4 524.1L1022.7 524.4L1021.9 524.7L1021.2 524.9L1020.4 525.1L1019.6 525.3L1018.9 525.5L1018.1 525.6L1017.3 525.8L1016.6 525.9L1015.9 526L1015.1 526.1L1014.4 526.2L1013.7 526.3L1013.1 526.3L1012.4 526.4L1011.9 526.5L1011.4 526.5L1011 526.6L1010.6 526.6L1010.4 526.6L1010.2 526.6L1010 526.6L1010 526.6L1009.9 526.6L1009.9 526.5L1009.8 526.5L1009.8 526.5L1009.7 526.4L1009.5 526.3L1009.3 526.2L1009 526.1L1008.7 525.9L1008.3 525.6L1007.9 525.4L1007.3 525.1L1006.8 524.7L1006.2 524.4L1005.6 524.1L1005.1 523.7L1004.5 523.4L1003.9 523L1003.3 522.6L1002.8 522.3L1002.2 521.8L1001.6 521.4L1001 520.9L1000.3 520.4L999.7 519.9L999.1 519.3L998.4 518.7L997.7 518.1L997 517.4L996.3 516.7L995.6 515.9L994.9 515L994.1 514.1L993.2 513L992.3 511.9L991.4 510.7L990.5 509.5L989.5 508.2L988.5 506.8L987.5 505.4L986.4 504L985.4 502.6L984.4 501.1L983.4 499.6L982.4 498.1L981.4 496.7L980.4 495.2L979.5 493.7L978.6 492.3L977.7 490.8L976.9 489.4L976.1 488.1L975.4 486.8L974.6 485.4L973.9 484.1L973.2 482.8L972.6 481.5L971.9 480.1L971.3 478.8L970.7 477.5L970.1 476.1L969.5 474.8L968.9 473.4L968.3 472.1L967.8 470.7L967.2 469.4L966.7 468L966.2 466.7L965.7 465.3L965.1 463.9L964.6 462.6L964.1 461.2L963.6 459.9L963.2 458.5L962.7 457.1L962.3 455.7L961.8 454.3L961.4 452.9L961 451.5L960.6 450.1L960.2 448.6L959.8 447.2L959.4 445.8L959 444.4L958.6 443L958.3 441.6L957.9 440.3L957.6 439L957.3 437.7L956.9 436.4L956.6 435.2L956.3 434L956 432.9L955.7 431.8L955.5 430.8L955.2 429.9L955 428.9L954.8 428L954.6 427.1L954.4 426.3L954.2 425.4L954 424.6L953.8 423.8L953.7 423L953.5 422.2L953.3 421.3L953.2 420.5L953 419.7L952.8 418.8L952.6 418L952.5 417.1L952.3 416.1L952.1 415.2L951.9 414.3L951.7 413.3L951.6 412.4L951.4 411.4L951.2 410.5L951 409.5L950.9 408.6L950.7 407.6L950.5 406.6L950.4 405.6L950.2 404.7L950 403.7L949.9 402.7L949.7 401.7L949.6 400.7L949.4 399.8L949.2 398.8L949.1 397.8L948.9 396.8L948.8 395.9L948.6 394.9L948.5 394L948.3 393L948.2 392.1L948 391.2L947.9 390.3L947.7 389.4L947.6 388.5L947.5 387.6L947.3 386.6L947.2 385.7L947 384.7L946.9 383.7L946.7 382.7L946.6 381.7L946.4 380.6L946.3 379.5L946.1 378.4L945.9 377.2L945.8 376L945.6 374.6L945.4 373.2L945.1 371.7L944.9 370.1L944.7 368.5L944.5 366.9L944.2 365.3L944 363.6L943.8 362L943.5 360.4L943.3 358.8L943.1 357.3L942.9 355.8L942.7 354.5L942.5 353.2L942.3 352L942.2 350.9L942.1 350L941.9 349.2Z" fill="#5b9bd5"/>
<path d="M1123.7 309.2L1124.1 309.3L1124.5 309.4L1124.9 309.4L1125.4 309.5L1125.9 309.7L1126.4 309.8L1126.9 310L1127.4 310.2L1127.9 310.4L1128.5 310.6L1129 310.8L1129.6 311L1130.1 311.3L1130.7 311.5L1131.2 311.8L1131.8 312.1L1132.4 312.4L1132.9 312.6L1133.4 312.9L1134 313.2L1134.5 313.5L1135 313.8L1135.5 314.1L1136 314.5L1136.5 314.8L1137 315.2L1137.5 315.5L1138 315.9L1138.4 316.3L1138.9 316.7L1139.4 317.2L1139.9 317.6L1140.4 318.1L1140.9 318.6L1141.4 319.2L1142 319.7L1142.5 320.3L1143.1 321L1143.6 321.6L1144.2 322.3L1144.7 323L1145.3 323.7L1145.8 324.4L1146.4 325.2L1147 325.9L1147.5 326.7L1148.1 327.5L1148.7 328.4L1149.2 329.2L1149.8 330.1L1150.3 331L1150.9 332L1151.4 332.9L1152 333.9L1152.5 334.9L1153.1 335.9L1153.6 337L1154.1 338.1L1154.7 339.2L1155.2 340.4L1155.7 341.6L1156.3 342.8L1156.8 344.1L1157.4 345.4L1157.9 346.7L1158.4 348L1159 349.4L1159.5 350.8L1160.1 352.2L1160.6 353.6L1161.1 355L1161.7 356.5L1162.2 357.9L1162.8 359.4L1163.3 360.8L1163.9 362.3L1164.5 363.7L1165 365.2L1165.6 366.6L1166.1 368.1L1166.7 369.6L1167.3 371.2L1167.8 372.7L1168.4 374.3L1168.9 375.8L1169.5 377.4L1170.1 379L1170.6 380.5L1171.2 382.1L1171.7 383.6L1172.3 385.2L1172.8 386.7L1173.4 388.2L1173.9 389.7L1174.4 391.2L1175 392.6L1175.5 394.1L1175.9 395.5L1176.4 396.8L1176.9 398.2L1177.4 399.6L1177.8 400.9L1178.3 402.3L1178.8 403.6L1179.2 405L1179.7 406.3L1180.1 407.7L1180.6 409L1181.1 410.3L1181.5 411.6L1182 413L1182.5 414.3L1183 415.7L1183.5 417L1184 418.3L1184.5 419.7L1185.1 421.1L1185.6 422.4L1186.2 423.9L1186.8 425.3L1187.4 426.7L1188 428.2L1188.6 429.6L1189.2 431.1L1189.8 432.5L1190.4 433.9L1191.1 435.3L1191.7 436.7L1192.2 438L1192.8 439.3L1193.4 440.5L1193.9 441.7L1194.4 442.9L1194.9 443.9L1195.3 444.9L1195.8 445.8L1196.1 446.6L1196.5 447.3L1196.8 447.9L1197 448.5L1197.3 449L1197.5 449.4L1197.7 449.8L1198 450.2L1198.2 450.5L1198.4 450.9L1198.6 451.2L1198.8 451.5L1199 451.7L1199.2 452L1199.4 452.3L1199.6 452.6L1199.8 452.9L1200.1 453.4L1200.4 453.9L1200.8 454.5L1201.3 455.2L1201.8 456L1202.3 456.9L1202.9 457.8L1203.5 458.8L1204.1 459.8L1204.7 460.8L1205.4 461.9L1206.1 463L1206.8 464.2L1207.5 465.3L1208.3 466.4L1209 467.6L1209.7 468.7L1210.5 469.7L1211.2 470.8L1211.9 471.8L1212.6 472.8L1213.3 473.7L1214 474.6L1214.7 475.4L1215.3 476.1L1215.9 476.8L1216.6 477.5L1217.2 478.2L1217.8 478.8L1218.4 479.4L1219 480L1219.7 480.6L1220.3 481.1L1220.9 481.7L1221.5 482.2L1222.1 482.6L1222.7 483.1L1223.4 483.6L1224 484L1224.6 484.4L1225.2 484.8L1225.8 485.2L1226.5 485.6L1227.1 486L1227.8 486.3L1228.4 486.7L1229.1 487L1229.8 487.3L1230.4 487.6L1231.1 487.9L1231.8 488.2L1232.5 488.5L1233.2 488.7L1233.9 488.9L1234.6 489.1L1235.3 489.3L1236.1 489.4L1236.8 489.6L1237.5 489.7L1238.2 489.8L1239 489.8L1239.7 489.9L1240.5 489.9L1241.2 489.9L1241.9 489.9L1242.6 489.8L1243.3 489.8L1244 489.7L1244.8 489.6L1245.5 489.4L1246.2 489.3L1246.9 489.1L1247.7 488.9L1248.4 488.7L1249.1 488.4L1245.4 478.7L1245 478.9L1244.6 479L1244.2 479.2L1243.8 479.3L1243.4 479.4L1243 479.5L1242.6 479.5L1242.2 479.6L1241.8 479.6L1241.3 479.7L1240.9 479.7L1240.5 479.7L1240.2 479.7L1239.8 479.7L1239.4 479.6L1239 479.6L1238.6 479.5L1238.2 479.4L1237.8 479.3L1237.4 479.2L1236.9 479L1236.5 478.9L1236.1 478.7L1235.6 478.6L1235.2 478.4L1234.7 478.2L1234.3 477.9L1233.8 477.7L1233.3 477.4L1232.9 477.2L1232.4 476.9L1231.9 476.6L1231.4 476.3L1231 476L1230.5 475.7L1230 475.4L1229.6 475L1229.1 474.7L1228.7 474.3L1228.2 473.9L1227.8 473.6L1227.3 473.2L1226.9 472.7L1226.4 472.3L1225.9 471.8L1225.4 471.3L1225 470.8L1224.5 470.3L1224 469.7L1223.4 469.1L1222.9 468.5L1222.4 467.8L1221.9 467.1L1221.3 466.4L1220.7 465.5L1220.1 464.6L1219.4 463.7L1218.7 462.7L1218.1 461.6L1217.4 460.6L1216.7 459.5L1216 458.4L1215.3 457.3L1214.6 456.2L1214 455.1L1213.3 454.1L1212.7 453.1L1212.1 452.1L1211.5 451.2L1211 450.3L1210.5 449.5L1210 448.7L1209.5 448L1209.2 447.4L1208.8 446.9L1208.5 446.5L1208.2 446.1L1208 445.8L1207.8 445.5L1207.7 445.3L1207.6 445.1L1207.5 445L1207.4 444.9L1207.3 444.7L1207.3 444.6L1207.1 444.3L1207 444L1206.8 443.7L1206.6 443.2L1206.3 442.6L1206 442L1205.6 441.2L1205.2 440.3L1204.8 439.4L1204.3 438.3L1203.8 437.2L1203.3 436.1L1202.8 434.9L1202.2 433.6L1201.6 432.3L1201 431L1200.5 429.6L1199.8 428.2L1199.2 426.8L1198.6 425.4L1198 424L1197.4 422.5L1196.9 421.1L1196.3 419.7L1195.7 418.4L1195.2 417L1194.7 415.7L1194.2 414.4L1193.7 413.1L1193.2 411.9L1192.8 410.6L1192.3 409.3L1191.8 408L1191.4 406.7L1190.9 405.4L1190.5 404.1L1190 402.8L1189.6 401.4L1189.1 400.1L1188.7 398.8L1188.2 397.4L1187.7 396L1187.2 394.6L1186.8 393.2L1186.3 391.8L1185.8 390.4L1185.2 389L1184.7 387.5L1184.2 386L1183.7 384.5L1183.1 383L1182.6 381.5L1182 380L1181.5 378.4L1180.9 376.8L1180.4 375.3L1179.8 373.7L1179.2 372.1L1178.7 370.5L1178.1 369L1177.5 367.4L1176.9 365.9L1176.4 364.3L1175.8 362.8L1175.2 361.3L1174.7 359.8L1174.1 358.3L1173.5 356.9L1173 355.5L1172.4 354L1171.9 352.6L1171.3 351.2L1170.8 349.7L1170.2 348.3L1169.7 346.8L1169.1 345.4L1168.6 344L1168 342.6L1167.5 341.2L1166.9 339.9L1166.3 338.5L1165.7 337.2L1165.1 335.9L1164.5 334.6L1163.9 333.3L1163.3 332.1L1162.7 330.9L1162.1 329.7L1161.5 328.6L1160.8 327.5L1160.2 326.4L1159.6 325.4L1158.9 324.3L1158.3 323.4L1157.6 322.4L1157 321.4L1156.4 320.5L1155.7 319.6L1155 318.7L1154.4 317.9L1153.7 317L1153.1 316.2L1152.4 315.4L1151.8 314.7L1151.1 313.9L1150.5 313.2L1149.8 312.5L1149.2 311.8L1148.5 311.1L1147.8 310.4L1147.2 309.8L1146.5 309.2L1145.8 308.6L1145.1 308.1L1144.4 307.6L1143.8 307.1L1143.1 306.6L1142.4 306.1L1141.7 305.7L1141.1 305.2L1140.4 304.8L1139.7 304.4L1139 304.1L1138.4 303.7L1137.7 303.4L1137.1 303L1136.4 302.7L1135.7 302.4L1135.1 302.1L1134.4 301.8L1133.7 301.5L1133 301.2L1132.3 300.9L1131.5 300.6L1130.8 300.4L1130 300.1L1129.3 299.9L1128.5 299.7L1127.7 299.5L1126.9 299.4L1126.1 299.2L1125.3 299.1L1124.4 299Z" fill="#5b9bd5"/>
<path d="M1356.7 196.3L1357.3 196.4L1358 196.6L1358.6 196.7L1359.3 196.9L1359.9 197.1L1360.5 197.3L1361.2 197.6L1361.8 197.8L1362.4 198.1L1363 198.4L1363.6 198.7L1364.1 199L1364.7 199.4L1365.2 199.7L1365.6 200.1L1366.1 200.5L1366.6 201L1367.1 201.5L1367.6 202L1368.1 202.6L1368.6 203.2L1369.1 203.9L1369.6 204.6L1370.1 205.4L1370.7 206.2L1371.2 207L1371.7 207.8L1372.2 208.7L1372.7 209.6L1373.3 210.5L1373.8 211.4L1374.3 212.3L1374.8 213.3L1375.3 214.2L1375.8 215.2L1376.2 216.1L1376.7 217.1L1377.1 218L1377.6 219L1378 219.9L1378.4 221L1378.8 222L1379.2 223L1379.6 224.1L1380 225.1L1380.4 226.2L1380.8 227.3L1381.2 228.4L1381.6 229.6L1382 230.7L1382.3 231.8L1382.7 233L1383.1 234.2L1383.4 235.3L1383.8 236.5L1384.2 237.7L1384.5 238.9L1384.9 240L1385.2 241.2L1385.5 242.4L1385.8 243.6L1386.1 244.7L1386.4 245.9L1386.8 247.2L1387.1 248.4L1387.4 249.6L1387.7 250.9L1388 252.1L1388.3 253.4L1388.6 254.7L1388.9 256.1L1389.2 257.4L1389.5 258.8L1389.8 260.2L1390.1 261.6L1390.5 263L1390.8 264.5L1391.1 266L1391.5 267.5L1391.9 269.1L1392.2 270.6L1392.6 272.2L1393 273.8L1393.3 275.4L1393.7 277.1L1394.1 278.7L1394.4 280.3L1394.8 282L1395.1 283.6L1395.5 285.2L1395.8 286.9L1396.1 288.5L1396.4 290.1L1396.7 291.7L1397 293.3L1397.3 294.9L1397.5 296.5L1397.8 298.1L1398 299.7L1398.2 301.4L1398.4 303.1L1398.6 304.9L1398.8 306.6L1399 308.3L1399.2 310.1L1399.3 311.8L1399.5 313.5L1399.7 315.2L1399.8 316.8L1400 318.4L1400.1 320L1400.3 321.5L1400.4 322.9L1400.6 324.3L1400.7 325.6L1400.8 326.8L1401 327.9L1401.1 328.9L1401.2 329.8L1401.3 330.5L1401.4 331.2L1401.5 331.8L1401.6 332.3L1401.6 332.8L1401.7 333.3L1401.8 333.7L1401.8 334.1L1401.9 334.6L1402 335L1402 335.6L1402.1 336.1L1402.2 336.8L1402.3 337.6L1402.4 338.4L1402.5 339.4L1402.6 340.6L1402.8 341.8L1402.9 343.2L1403 344.7L1403.2 346.3L1403.3 347.9L1403.5 349.6L1403.6 351.4L1403.8 353.2L1404 355.1L1404.1 357L1404.3 359L1404.5 360.9L1404.7 362.9L1404.9 364.9L1405.1 366.9L1405.3 368.9L1405.5 370.8L1405.7 372.7L1405.9 374.6L1406.1 376.5L1406.4 378.3L1406.6 380.1L1406.9 381.9L1407.1 383.7L1407.4 385.5L1407.6 387.3L1407.9 389.2L1408.2 391L1408.5 392.8L1408.8 394.6L1409 396.4L1409.3 398.1L1409.6 399.9L1409.9 401.7L1410.2 403.5L1410.5 405.3L1410.7 407.1L1411 408.9L1411.3 410.6L1411.6 412.4L1411.8 414.2L1412.1 416L1412.3 417.7L1412.6 419.5L1412.8 421.3L1413.1 423.1L1413.3 424.9L1413.5 426.7L1413.8 428.4L1414 430.2L1414.3 432.1L1414.6 433.9L1414.8 435.7L1415.1 437.5L1415.4 439.3L1415.7 441.1L1416 443L1416.3 444.8L1416.7 446.6L1417 448.5L1417.4 450.3L1417.8 452.1L1418.2 454L1418.6 455.9L1419 457.7L1419.4 459.6L1419.8 461.5L1420.3 463.4L1420.7 465.2L1421.2 467.1L1421.7 469L1422.1 470.8L1422.6 472.7L1423.1 474.5L1423.6 476.3L1424.1 478.1L1424.6 479.8L1425.1 481.5L1425.6 483.2L1426.1 484.9L1426.6 486.5L1427.1 488.2L1427.6 489.8L1428.1 491.3L1428.7 492.9L1429.2 494.4L1429.7 496L1430.3 497.5L1430.8 499L1431.4 500.4L1431.9 501.9L1432.5 503.3L1433.1 504.7L1433.6 506.1L1434.2 507.5L1434.8 508.9L1435.4 510.2L1436 511.6L1436.6 512.9L1437.2 514.2L1437.8 515.5L1438.4 516.7L1439 518L1439.6 519.3L1440.2 520.5L1440.9 521.7L1441.5 523L1442.2 524.2L1442.8 525.3L1443.5 526.5L1444.1 527.7L1444.8 528.8L1445.5 529.9L1446.2 531L1446.9 532L1447.6 533L1448.3 534L1449 535L1449.7 535.9L1450.5 536.8L1451.2 537.7L1452 538.5L1452.8 539.3L1453.6 540.1L1454.4 540.8L1455.2 541.5L1456 542.2L1456.8 542.8L1457.6 543.4L1458.4 543.9L1459.2 544.4L1460 544.9L1460.7 545.4L1461.5 545.8L1462.3 546.3L1463 546.6L1463.8 547L1464.5 547.4L1465.2 547.7L1466 548L1466.7 548.3L1467.5 548.6L1468.2 548.8L1469 549L1469.8 549.2L1470.5 549.4L1471.3 549.5L1472 549.6L1472.7 549.7L1473.5 549.7L1474.2 549.8L1474.9 549.8L1475.6 549.8L1476.4 549.7L1477.1 549.7L1477.8 549.6L1478.5 549.6L1479.2 549.5L1479.9 549.4L1480.6 549.3L1481.3 549.1L1482.1 549L1482.9 548.8L1483.7 548.6L1484.5 548.4L1481.7 538.5L1481.1 538.6L1480.5 538.8L1479.9 538.9L1479.4 539L1478.8 539.1L1478.3 539.2L1477.7 539.3L1477.2 539.4L1476.7 539.5L1476.2 539.5L1475.8 539.6L1475.3 539.6L1474.9 539.6L1474.5 539.6L1474.1 539.6L1473.7 539.5L1473.4 539.5L1473 539.4L1472.6 539.3L1472.2 539.2L1471.8 539.1L1471.4 539L1471 538.8L1470.5 538.6L1470 538.4L1469.5 538.2L1468.9 537.9L1468.4 537.6L1467.8 537.3L1467.2 537L1466.6 536.7L1466.1 536.4L1465.5 536L1464.9 535.6L1464.3 535.2L1463.8 534.8L1463.2 534.4L1462.6 533.9L1462.1 533.4L1461.5 532.9L1460.9 532.4L1460.4 531.8L1459.8 531.2L1459.3 530.6L1458.7 530L1458.2 529.3L1457.6 528.5L1457 527.7L1456.5 526.9L1455.9 526L1455.3 525.1L1454.7 524.2L1454.1 523.2L1453.5 522.2L1452.9 521.1L1452.3 520.1L1451.7 519L1451.1 517.9L1450.5 516.7L1449.9 515.6L1449.3 514.4L1448.8 513.2L1448.2 512L1447.6 510.8L1447 509.6L1446.5 508.4L1445.9 507.1L1445.4 505.9L1444.8 504.6L1444.3 503.3L1443.7 502L1443.2 500.7L1442.6 499.3L1442.1 497.9L1441.6 496.6L1441.1 495.2L1440.5 493.7L1440 492.3L1439.5 490.8L1439 489.4L1438.5 487.9L1438 486.4L1437.5 484.8L1437 483.3L1436.5 481.7L1436.1 480.1L1435.6 478.5L1435.1 476.8L1434.6 475.1L1434.1 473.4L1433.7 471.6L1433.2 469.9L1432.7 468.1L1432.3 466.3L1431.8 464.5L1431.4 462.7L1431 460.8L1430.5 459L1430.1 457.2L1429.7 455.3L1429.3 453.5L1428.9 451.7L1428.5 449.9L1428.1 448.1L1427.8 446.3L1427.4 444.6L1427.1 442.8L1426.8 441.1L1426.5 439.3L1426.2 437.6L1426 435.8L1425.7 434.1L1425.4 432.3L1425.2 430.5L1424.9 428.7L1424.7 427L1424.4 425.2L1424.2 423.4L1424 421.6L1423.7 419.8L1423.5 418L1423.2 416.2L1423 414.4L1422.7 412.6L1422.4 410.8L1422.2 409L1421.9 407.2L1421.6 405.4L1421.3 403.6L1421 401.8L1420.7 400L1420.5 398.2L1420.2 396.4L1419.9 394.6L1419.6 392.8L1419.3 391.1L1419.1 389.3L1418.8 387.5L1418.5 385.7L1418.3 384L1418 382.2L1417.7 380.4L1417.5 378.6L1417.3 376.9L1417.1 375.1L1416.8 373.3L1416.6 371.5L1416.4 369.6L1416.2 367.7L1416 365.8L1415.8 363.8L1415.6 361.9L1415.5 359.9L1415.3 358L1415.1 356L1414.9 354.1L1414.8 352.2L1414.6 350.4L1414.4 348.6L1414.3 346.9L1414.1 345.2L1414 343.7L1413.8 342.2L1413.7 340.7L1413.6 339.4L1413.4 338.2L1413.3 337.2L1413.2 336.3L1413.1 335.5L1413 334.7L1412.9 334.1L1412.9 333.5L1412.8 333L1412.7 332.5L1412.6 332L1412.6 331.6L1412.5 331.2L1412.4 330.7L1412.4 330.2L1412.3 329.7L1412.2 329L1412.1 328.3L1412 327.5L1411.9 326.6L1411.8 325.6L1411.6 324.4L1411.5 323.2L1411.4 321.8L1411.2 320.4L1411.1 318.9L1410.9 317.4L1410.8 315.8L1410.6 314.1L1410.5 312.4L1410.3 310.7L1410.1 309L1409.9 307.2L1409.7 305.4L1409.5 303.6L1409.3 301.8L1409.1 300L1408.9 298.3L1408.6 296.5L1408.4 294.8L1408.1 293.1L1407.8 291.5L1407.5 289.8L1407.2 288.1L1406.9 286.4L1406.6 284.7L1406.2 283L1405.9 281.3L1405.5 279.7L1405.1 278L1404.8 276.3L1404.4 274.6L1404 273L1403.7 271.4L1403.3 269.7L1402.9 268.1L1402.5 266.6L1402.2 265L1401.8 263.5L1401.5 262L1401.1 260.6L1400.8 259.1L1400.5 257.7L1400.2 256.3L1399.9 255L1399.6 253.6L1399.2 252.3L1398.9 251L1398.6 249.6L1398.3 248.3L1398 247.1L1397.7 245.8L1397.4 244.5L1397.1 243.2L1396.7 242L1396.4 240.7L1396.1 239.5L1395.7 238.2L1395.4 237L1395 235.7L1394.6 234.5L1394.3 233.3L1393.9 232.1L1393.5 230.9L1393.1 229.7L1392.7 228.5L1392.3 227.3L1391.9 226.1L1391.5 224.9L1391.1 223.7L1390.7 222.5L1390.3 221.4L1389.8 220.2L1389.4 219L1388.9 217.9L1388.5 216.8L1388 215.6L1387.5 214.5L1387 213.4L1386.5 212.3L1386 211.3L1385.4 210.2L1384.9 209.2L1384.4 208.2L1383.8 207.2L1383.3 206.1L1382.7 205.1L1382.1 204.1L1381.5 203.1L1380.9 202.1L1380.3 201.1L1379.7 200.2L1379 199.2L1378.3 198.3L1377.7 197.4L1377 196.5L1376.2 195.6L1375.5 194.8L1374.7 194L1373.9 193.2L1373.1 192.5L1372.2 191.8L1371.3 191.1L1370.4 190.5L1369.5 190L1368.5 189.5L1367.6 189L1366.7 188.6L1365.7 188.2L1364.8 187.8L1363.9 187.5L1363 187.2L1362.1 187L1361.2 186.7L1360.3 186.5L1359.5 186.4L1358.7 186.2Z" fill="#5b9bd5"/>
<path d="M935.8 324.1L935.6 325L935.4 326L935.2 326.9L935 327.9L934.7 328.9L934.5 329.8L934.3 330.8L934 331.8L933.8 332.8L933.6 333.8L933.4 334.8L933.2 335.8L932.9 336.8L932.7 337.8L932.5 338.8L932.3 339.8L932.2 340.8L932 341.8L931.8 342.8L931.6 343.8L931.4 344.8L931.2 345.8L931.1 346.8L930.9 347.8L930.7 348.7L930.5 349.7L930.4 350.7L930.2 351.7L930 352.6L929.8 353.6L929.7 354.6L929.5 355.5L929.3 356.5L929.1 357.5L928.9 358.4L928.7 359.4L928.6 360.3L928.4 361.3L928.2 362.2L928 363.2L927.8 364.2L927.6 365.1L927.3 366.1L927.1 367.1L926.9 368L926.7 369L926.5 370L926.3 370.9L926.1 371.9L925.9 372.9L925.7 373.9L925.5 374.9L925.3 375.9L925.1 376.9L924.9 377.9L924.7 378.8L924.6 379.8L924.4 380.8L924.2 381.8L924 382.8L923.8 383.8L923.6 384.8L923.5 385.8L923.3 386.8L923.1 387.8L922.9 388.8L922.8 389.8L922.6 390.8L922.4 391.8L922.3 392.8L922.1 393.8L921.9 394.7L921.8 395.7L921.6 396.7L921.4 397.7L921.3 398.7L921.1 399.7L920.9 400.7L920.8 401.7L920.6 402.7L920.5 403.7L920.3 404.7L920.2 405.7L920 406.6L919.9 407.6L919.7 408.6L919.6 409.6L919.4 410.6L919.3 411.5L919.1 412.5L919 413.5L918.9 414.4L918.7 415.4L918.6 416.3L918.4 417.2L918.3 418.1L918.2 419L918 419.8L917.9 420.6L917.8 421.5L917.6 422.3L917.5 423.2L917.3 424L917.2 424.9L917.1 425.7L916.9 426.6L916.8 427.6L916.7 428.5L916.6 429.5L916.4 430.5L916.3 431.6L916.2 432.6L916.1 433.8L916 434.9L915.9 436.1L915.8 437.4L915.8 438.6L915.7 440L915.6 441.3L915.5 442.7L915.4 444.1L915.4 445.5L915.3 447L915.2 448.4L915.2 449.9L915.1 451.4L915.1 452.9L915 454.4L915 455.9L915 457.3L915 458.8L915 460.3L915 461.8L915 463.2L915 464.6L915.1 466L915.1 467.5L915.1 468.9L915.2 470.4L915.2 471.8L915.3 473.3L915.4 474.8L915.5 476.2L915.6 477.7L915.6 479.1L915.8 480.6L915.9 482L916 483.4L916.1 484.9L916.3 486.3L916.4 487.6L916.6 489L916.8 490.4L917 491.7L917.2 493L917.4 494.3L917.6 495.5L917.8 496.8L918.1 498.1L918.3 499.3L918.6 500.6L918.8 501.8L919.1 503L919.4 504.2L919.7 505.4L920 506.6L920.4 507.7L920.7 508.9L921.1 510L921.4 511.1L921.8 512.2L922.2 513.3L922.6 514.3L923 515.3L923.5 516.3L923.9 517.2L924.3 518.2L924.8 519.1L925.2 520.1L925.7 521.1L926.2 522L926.8 523L927.3 523.9L927.9 524.8L928.5 525.7L929.2 526.6L929.9 527.5L930.6 528.3L931.4 529.1L932.3 529.8L933.3 530.5L934.4 531.1L935.6 531.6L936.9 531.9L938.1 532.1L939.2 532.2L940.4 532.1L941.5 532.1L942.6 531.9L943.6 531.6L944.7 531.3L945.7 530.9L946.7 530.5L947.7 530L948.6 529.4L949.6 528.8L943 519.6L942.5 520L942 520.3L941.6 520.6L941.2 520.8L940.8 521L940.5 521.1L940.2 521.2L939.9 521.3L939.7 521.3L939.6 521.4L939.5 521.3L939.5 521.3L939.6 521.3L939.7 521.2L939.6 521.1L939.5 521L939.3 520.8L939.1 520.5L938.8 520.1L938.5 519.6L938.1 519.1L937.8 518.5L937.4 517.9L937 517.2L936.6 516.5L936.2 515.7L935.9 514.9L935.5 514.1L935.1 513.3L934.7 512.4L934.3 511.5L934 510.7L933.6 509.9L933.3 509L933 508.2L932.7 507.3L932.4 506.4L932.1 505.4L931.8 504.4L931.5 503.4L931.3 502.4L931 501.4L930.8 500.3L930.5 499.2L930.3 498.1L930 497L929.8 495.8L929.6 494.7L929.4 493.5L929.2 492.3L929 491.1L928.8 489.9L928.7 488.7L928.5 487.5L928.3 486.2L928.2 485L928.1 483.7L927.9 482.3L927.8 481L927.7 479.7L927.6 478.3L927.5 476.9L927.4 475.5L927.4 474.1L927.3 472.7L927.2 471.3L927.2 469.9L927.1 468.5L927.1 467.1L927.1 465.8L927 464.4L927 463L927 461.7L927 460.3L927 458.9L927 457.5L927 456.1L927 454.6L927.1 453.2L927.1 451.8L927.2 450.3L927.2 448.9L927.3 447.5L927.3 446.1L927.4 444.7L927.5 443.3L927.6 442L927.6 440.7L927.7 439.4L927.8 438.2L927.9 437L928 435.9L928.1 434.8L928.2 433.8L928.3 432.8L928.4 431.8L928.5 430.9L928.6 430L928.7 429.2L928.8 428.4L928.9 427.5L929 426.7L929.2 425.9L929.3 425.1L929.4 424.3L929.6 423.4L929.7 422.6L929.9 421.7L930 420.9L930.1 420L930.3 419L930.4 418.1L930.6 417.1L930.7 416.2L930.8 415.2L931 414.3L931.1 413.3L931.3 412.3L931.4 411.4L931.6 410.4L931.7 409.4L931.9 408.4L932 407.5L932.2 406.5L932.3 405.5L932.5 404.5L932.6 403.6L932.8 402.6L932.9 401.6L933.1 400.6L933.2 399.7L933.4 398.7L933.6 397.7L933.7 396.7L933.9 395.8L934.1 394.8L934.2 393.8L934.4 392.8L934.6 391.8L934.7 390.8L934.9 389.9L935.1 388.9L935.3 387.9L935.4 386.9L935.6 385.9L935.8 385L936 384L936.1 383L936.3 382L936.5 381.1L936.7 380.1L936.9 379.1L937.1 378.2L937.2 377.2L937.4 376.3L937.6 375.3L937.8 374.3L938 373.4L938.2 372.4L938.4 371.5L938.6 370.5L938.8 369.5L939 368.6L939.3 367.6L939.5 366.6L939.7 365.7L939.9 364.7L940.1 363.7L940.3 362.7L940.5 361.7L940.7 360.7L940.9 359.7L941.1 358.7L941.3 357.8L941.4 356.8L941.6 355.8L941.8 354.8L942 353.8L942.2 352.8L942.3 351.8L942.5 350.8L942.7 349.8L942.9 348.9L943 347.9L943.2 346.9L943.4 345.9L943.6 345L943.7 344L943.9 343L944.1 342.1L944.3 341.1L944.5 340.2L944.7 339.2L944.9 338.3L945.1 337.3L945.3 336.4L945.5 335.4L945.7 334.5L945.9 333.5L946.1 332.5L946.4 331.6L946.6 330.6L946.8 329.6L947.1 328.6L947.3 327.6L947.5 326.6Z" fill="#b1409b"/>
<path d="M1039 369.2L1039.5 369.2L1039.9 369.3L1040.3 369.4L1040.7 369.5L1041.1 369.6L1041.5 369.7L1041.9 369.8L1042.3 369.9L1042.7 370.1L1043 370.2L1043.3 370.4L1043.7 370.5L1044 370.7L1044.3 370.9L1044.6 371.1L1044.9 371.3L1045.2 371.5L1045.4 371.7L1045.7 371.9L1046 372.2L1046.2 372.4L1046.5 372.7L1046.8 373L1047.1 373.3L1047.4 373.6L1047.7 373.9L1048 374.3L1048.4 374.7L1048.7 375.2L1049.1 375.6L1049.5 376.1L1049.9 376.6L1050.4 377.2L1050.8 377.8L1051.3 378.4L1051.8 379L1052.3 379.7L1052.8 380.4L1053.3 381.2L1053.8 381.9L1054.4 382.7L1055 383.5L1055.5 384.4L1056.1 385.2L1056.7 386.1L1057.2 387L1057.8 387.8L1058.3 388.7L1058.9 389.6L1059.4 390.4L1060 391.3L1060.5 392.1L1061 393L1061.4 393.8L1061.9 394.5L1062.3 395.3L1062.7 396.1L1063.2 396.9L1063.6 397.7L1064 398.5L1064.4 399.3L1064.8 400.2L1065.2 401L1065.6 401.8L1066 402.6L1066.4 403.4L1066.8 404.3L1067.2 405.1L1067.5 405.9L1067.9 406.7L1068.3 407.5L1068.7 408.4L1069.1 409.2L1069.5 410L1069.8 410.7L1070.2 411.5L1070.5 412.1L1070.8 412.8L1071.1 413.5L1071.5 414.1L1071.8 414.8L1072.1 415.4L1072.4 416.1L1072.7 416.7L1073 417.4L1073.3 418.1L1073.6 418.8L1073.9 419.5L1074.3 420.3L1074.6 421L1075 421.8L1075.4 422.7L1075.8 423.6L1076.2 424.5L1076.7 425.5L1077.2 426.5L1077.7 427.6L1078.2 428.6L1078.7 429.7L1079.3 430.8L1079.8 431.9L1080.4 433.1L1080.9 434.3L1081.5 435.4L1082.1 436.6L1082.6 437.8L1083.2 439.1L1083.8 440.3L1084.4 441.5L1084.9 442.8L1085.5 444L1086.1 445.3L1086.6 446.5L1087.2 447.7L1087.7 449L1088.2 450.3L1088.7 451.6L1089.3 453L1089.8 454.4L1090.4 455.8L1090.9 457.2L1091.5 458.7L1092 460.1L1092.6 461.6L1093.1 463.1L1093.7 464.5L1094.3 466L1094.8 467.4L1095.4 468.9L1096 470.3L1096.6 471.7L1097.2 473L1097.8 474.3L1098.3 475.6L1098.9 476.8L1099.5 478L1100.1 479.2L1100.6 480.3L1101.2 481.5L1101.8 482.6L1102.4 483.7L1103 484.7L1103.5 485.8L1104.1 486.8L1104.7 487.8L1105.3 488.8L1105.9 489.8L1106.5 490.8L1107.1 491.7L1107.7 492.6L1108.3 493.5L1108.9 494.4L1109.5 495.2L1110.2 496L1110.8 496.9L1111.5 497.6L1112.2 498.4L1112.9 499.1L1113.5 499.8L1114.2 500.5L1114.9 501.1L1115.6 501.7L1116.3 502.3L1116.9 502.8L1117.6 503.3L1118.2 503.8L1118.9 504.3L1119.5 504.7L1120.1 505.1L1120.7 505.5L1121.3 505.9L1121.8 506.3L1122.3 506.6L1122.9 506.9L1123.4 507.3L1123.9 507.6L1124.4 507.9L1125 508.2L1125.5 508.5L1126 508.7L1126.6 509L1127.1 509.2L1127.7 509.4L1128.2 509.6L1128.8 509.8L1129.4 509.9L1130 510L1130.6 510.1L1131.2 510.2L1131.8 510.3L1132.4 510.3L1133 510.4L1133.6 510.4L1134.2 510.4L1134.8 510.4L1135.4 510.4L1136.1 510.3L1136.7 510.3L1137.4 510.2L1138 510.2L1138.7 510.1L1139.4 510L1140.1 509.8L1140.8 509.7L1141.5 509.5L1142.2 509.4L1139.2 498.8L1138.8 498.9L1138.4 499.1L1137.9 499.2L1137.5 499.3L1137 499.3L1136.6 499.4L1136.2 499.5L1135.8 499.5L1135.4 499.6L1135 499.6L1134.6 499.6L1134.2 499.6L1133.9 499.6L1133.5 499.6L1133.3 499.6L1133 499.5L1132.8 499.5L1132.6 499.4L1132.4 499.4L1132.2 499.3L1132 499.3L1131.9 499.2L1131.7 499.1L1131.5 499L1131.2 498.9L1131 498.7L1130.7 498.6L1130.4 498.4L1130.1 498.2L1129.8 498L1129.4 497.7L1128.9 497.5L1128.5 497.2L1128 496.8L1127.5 496.5L1127 496.2L1126.6 495.8L1126.1 495.5L1125.6 495.1L1125.1 494.8L1124.6 494.4L1124.1 494L1123.7 493.6L1123.2 493.1L1122.7 492.7L1122.2 492.2L1121.7 491.7L1121.3 491.2L1120.8 490.7L1120.3 490.1L1119.9 489.6L1119.4 489L1118.9 488.3L1118.5 487.6L1118 486.9L1117.5 486.1L1116.9 485.3L1116.4 484.5L1115.9 483.7L1115.4 482.8L1114.9 481.9L1114.4 481L1113.8 480.1L1113.3 479.1L1112.8 478.1L1112.3 477.1L1111.7 476.1L1111.2 475L1110.7 473.9L1110.1 472.8L1109.6 471.7L1109.1 470.6L1108.5 469.5L1108 468.3L1107.5 467L1107 465.8L1106.4 464.4L1105.9 463.1L1105.3 461.7L1104.8 460.3L1104.3 458.8L1103.7 457.4L1103.1 455.9L1102.6 454.5L1102 453L1101.5 451.5L1100.9 450.1L1100.3 448.6L1099.8 447.2L1099.2 445.8L1098.6 444.4L1098 443.1L1097.5 441.7L1096.9 440.4L1096.3 439.1L1095.7 437.8L1095.1 436.6L1094.5 435.3L1093.9 434L1093.3 432.8L1092.7 431.5L1092.2 430.3L1091.6 429.1L1091 427.9L1090.5 426.8L1089.9 425.7L1089.4 424.6L1088.9 423.5L1088.4 422.4L1087.9 421.4L1087.4 420.4L1087 419.5L1086.5 418.6L1086.1 417.7L1085.7 416.9L1085.4 416.1L1085 415.3L1084.7 414.6L1084.3 413.8L1084 413.2L1083.7 412.5L1083.4 411.8L1083.1 411.1L1082.8 410.5L1082.5 409.8L1082.2 409.1L1081.9 408.5L1081.5 407.8L1081.2 407.1L1080.9 406.4L1080.5 405.6L1080.1 404.8L1079.8 404.1L1079.4 403.3L1079 402.5L1078.6 401.7L1078.2 400.9L1077.9 400L1077.5 399.2L1077.1 398.4L1076.7 397.5L1076.2 396.7L1075.8 395.8L1075.4 394.9L1074.9 394L1074.5 393.2L1074 392.3L1073.6 391.4L1073.1 390.5L1072.6 389.6L1072.1 388.7L1071.6 387.8L1071.1 387L1070.5 386.1L1070 385.2L1069.4 384.3L1068.8 383.3L1068.2 382.4L1067.6 381.5L1067 380.6L1066.4 379.6L1065.8 378.7L1065.2 377.8L1064.6 376.9L1064 376.1L1063.4 375.2L1062.8 374.4L1062.2 373.6L1061.6 372.8L1061.1 372L1060.5 371.3L1060 370.6L1059.5 370L1059 369.4L1058.5 368.8L1058.1 368.2L1057.6 367.7L1057.1 367.2L1056.7 366.6L1056.2 366.1L1055.7 365.6L1055.3 365.2L1054.8 364.7L1054.3 364.2L1053.7 363.8L1053.2 363.4L1052.7 363L1052.1 362.6L1051.5 362.2L1051 361.8L1050.4 361.4L1049.7 361.1L1049.1 360.8L1048.4 360.5L1047.7 360.2L1047 359.9L1046.4 359.7L1045.7 359.5L1045 359.3L1044.3 359.1L1043.6 358.9L1043 358.8L1042.3 358.7L1041.6 358.6L1041 358.5L1040.3 358.4Z" fill="#b1409b"/>
<path d="M1230.5 258L1231 258.1L1231.6 258.2L1232.2 258.3L1232.8 258.4L1233.3 258.5L1233.9 258.6L1234.5 258.8L1235.1 258.9L1235.7 259.1L1236.3 259.3L1236.8 259.5L1237.4 259.7L1238 260L1238.5 260.2L1239.1 260.5L1239.6 260.7L1240.2 261L1240.7 261.4L1241.3 261.7L1241.9 262.1L1242.4 262.4L1243 262.8L1243.6 263.3L1244.2 263.7L1244.8 264.2L1245.4 264.6L1246 265.1L1246.6 265.7L1247.2 266.2L1247.8 266.7L1248.4 267.3L1249 267.8L1249.6 268.4L1250.1 269L1250.7 269.6L1251.3 270.2L1251.8 270.8L1252.4 271.4L1252.9 272L1253.4 272.7L1254 273.4L1254.5 274.1L1255.1 274.8L1255.6 275.6L1256.2 276.3L1256.7 277.1L1257.3 277.9L1257.8 278.7L1258.3 279.5L1258.8 280.3L1259.3 281.1L1259.8 281.9L1260.3 282.7L1260.8 283.5L1261.2 284.2L1261.7 285L1262.1 285.7L1262.5 286.4L1262.8 287.1L1263.2 287.7L1263.5 288.3L1263.8 288.9L1264 289.5L1264.3 290.1L1264.6 290.7L1264.8 291.4L1265.1 292L1265.4 292.6L1265.6 293.3L1265.9 293.9L1266.2 294.7L1266.4 295.4L1266.7 296.2L1267 297L1267.4 297.8L1267.7 298.7L1268.1 299.6L1268.4 300.5L1268.8 301.5L1269.2 302.4L1269.6 303.4L1270 304.5L1270.4 305.5L1270.8 306.6L1271.2 307.7L1271.6 308.8L1272 310L1272.4 311.1L1272.9 312.3L1273.3 313.4L1273.7 314.6L1274.2 315.8L1274.6 317L1275 318.1L1275.5 319.3L1275.9 320.5L1276.3 321.7L1276.8 322.9L1277.2 324.1L1277.7 325.3L1278.2 326.5L1278.6 327.6L1279.1 328.8L1279.6 330L1280.1 331.2L1280.5 332.4L1281 333.6L1281.4 334.7L1281.9 335.9L1282.3 337.1L1282.8 338.3L1283.2 339.5L1283.6 340.7L1284 341.9L1284.3 343.1L1284.7 344.3L1285 345.5L1285.4 346.7L1285.7 347.9L1286 349.2L1286.2 350.5L1286.5 351.8L1286.8 353.1L1287 354.4L1287.3 355.8L1287.5 357.2L1287.8 358.6L1288 360L1288.3 361.4L1288.5 362.8L1288.8 364.2L1289 365.7L1289.3 367.1L1289.6 368.6L1289.8 370L1290.1 371.5L1290.5 372.9L1290.8 374.3L1291.1 375.7L1291.4 377.1L1291.7 378.5L1292.1 379.8L1292.4 381.2L1292.7 382.6L1293.1 384L1293.4 385.4L1293.7 386.8L1294.1 388.2L1294.4 389.6L1294.8 391L1295.2 392.4L1295.6 393.8L1295.9 395.2L1296.3 396.6L1296.7 398.1L1297.2 399.5L1297.6 401L1298 402.4L1298.4 403.9L1298.9 405.5L1299.4 407L1299.9 408.6L1300.3 410.2L1300.8 411.7L1301.3 413.3L1301.8 414.9L1302.4 416.5L1302.9 418.1L1303.4 419.6L1303.9 421.2L1304.4 422.7L1304.9 424.2L1305.4 425.7L1306 427.1L1306.5 428.5L1307 429.8L1307.4 431.1L1307.9 432.3L1308.4 433.5L1308.8 434.7L1309.3 435.9L1309.8 437L1310.2 438.1L1310.7 439.1L1311.1 440.2L1311.6 441.2L1312 442.2L1312.5 443.2L1313 444.1L1313.4 445.1L1313.9 446L1314.4 447L1314.9 447.9L1315.4 448.8L1316 449.7L1316.5 450.5L1317 451.4L1317.6 452.3L1318.1 453.1L1318.7 454L1319.3 454.8L1319.9 455.6L1320.5 456.3L1321.1 457.1L1321.7 457.9L1322.3 458.6L1322.9 459.3L1323.6 460L1324.2 460.7L1324.9 461.4L1325.5 462L1326.2 462.6L1326.8 463.2L1327.5 463.8L1328.2 464.4L1328.9 464.9L1329.6 465.4L1330.2 465.9L1330.9 466.4L1331.6 466.8L1332.3 467.3L1333 467.7L1333.7 468.1L1334.4 468.5L1335.2 468.8L1335.9 469.1L1336.7 469.5L1337.5 469.7L1338.2 470L1339 470.2L1339.8 470.4L1340.6 470.6L1341.5 470.8L1342.3 470.9L1343.1 471L1344 471.1L1344.8 471.1L1345.7 471.1L1346.5 471.1L1347.4 471.1L1348.2 471L1349.1 470.9L1349.9 470.8L1350.8 470.7L1351.7 470.5L1352.5 470.3L1353.4 470.1L1354.3 469.9L1355.1 469.6L1356 469.3L1352.3 458.9L1351.7 459.2L1351.1 459.4L1350.5 459.5L1349.9 459.7L1349.4 459.8L1348.8 460L1348.3 460.1L1347.7 460.2L1347.2 460.2L1346.7 460.3L1346.2 460.3L1345.7 460.3L1345.2 460.3L1344.7 460.3L1344.3 460.2L1343.9 460.2L1343.4 460.1L1343 460L1342.6 459.8L1342.2 459.7L1341.8 459.6L1341.3 459.4L1340.9 459.2L1340.5 459L1340.1 458.8L1339.6 458.6L1339.2 458.3L1338.8 458L1338.3 457.7L1337.8 457.4L1337.4 457.1L1336.9 456.7L1336.4 456.4L1336 456L1335.5 455.6L1335 455.2L1334.6 454.7L1334.1 454.3L1333.6 453.8L1333.1 453.3L1332.6 452.8L1332.2 452.3L1331.7 451.7L1331.2 451.1L1330.7 450.5L1330.2 449.9L1329.8 449.3L1329.3 448.6L1328.8 448L1328.3 447.3L1327.9 446.6L1327.4 445.9L1327 445.2L1326.5 444.5L1326.1 443.7L1325.7 443L1325.2 442.2L1324.8 441.4L1324.4 440.6L1324 439.8L1323.6 439L1323.2 438.1L1322.8 437.2L1322.4 436.3L1322 435.4L1321.6 434.5L1321.2 433.5L1320.7 432.5L1320.3 431.4L1319.9 430.3L1319.5 429.2L1319 428.1L1318.6 426.9L1318.1 425.7L1317.6 424.4L1317.2 423.1L1316.7 421.7L1316.2 420.3L1315.7 418.9L1315.2 417.4L1314.7 415.9L1314.2 414.4L1313.7 412.8L1313.2 411.3L1312.7 409.7L1312.2 408.2L1311.7 406.6L1311.3 405.1L1310.8 403.5L1310.3 402L1309.9 400.5L1309.4 399.1L1309 397.6L1308.6 396.2L1308.2 394.8L1307.8 393.4L1307.5 392.1L1307.1 390.7L1306.7 389.3L1306.4 388L1306 386.6L1305.7 385.2L1305.3 383.9L1305 382.5L1304.7 381.2L1304.3 379.8L1304 378.5L1303.7 377.1L1303.4 375.8L1303.1 374.4L1302.8 373L1302.4 371.7L1302.1 370.3L1301.8 369L1301.6 367.6L1301.3 366.3L1301 364.9L1300.8 363.5L1300.5 362.1L1300.3 360.7L1300.1 359.3L1299.8 357.9L1299.6 356.5L1299.3 355.1L1299.1 353.7L1298.8 352.2L1298.5 350.8L1298.2 349.4L1297.9 348L1297.6 346.5L1297.3 345.1L1296.9 343.7L1296.6 342.3L1296.2 340.9L1295.7 339.6L1295.3 338.2L1294.9 336.9L1294.4 335.6L1294 334.3L1293.5 333L1293 331.7L1292.5 330.5L1292.1 329.3L1291.6 328L1291.1 326.8L1290.6 325.6L1290.1 324.4L1289.7 323.3L1289.2 322.1L1288.8 320.9L1288.3 319.8L1287.9 318.7L1287.5 317.5L1287 316.4L1286.6 315.2L1286.2 314L1285.8 312.9L1285.3 311.7L1284.9 310.5L1284.5 309.3L1284 308.2L1283.6 307L1283.2 305.8L1282.7 304.7L1282.3 303.6L1281.9 302.4L1281.5 301.3L1281.1 300.3L1280.7 299.2L1280.3 298.2L1279.9 297.1L1279.5 296.2L1279.1 295.2L1278.8 294.3L1278.4 293.5L1278.1 292.7L1277.8 291.9L1277.5 291.1L1277.2 290.4L1276.9 289.6L1276.6 288.9L1276.4 288.2L1276.1 287.4L1275.8 286.7L1275.4 286L1275.1 285.3L1274.8 284.5L1274.4 283.8L1274 283L1273.6 282.3L1273.2 281.5L1272.8 280.7L1272.3 279.9L1271.8 279.1L1271.3 278.2L1270.8 277.4L1270.3 276.6L1269.8 275.7L1269.2 274.8L1268.7 274L1268.1 273.1L1267.5 272.2L1266.9 271.3L1266.3 270.4L1265.7 269.6L1265 268.7L1264.4 267.8L1263.8 267L1263.1 266.2L1262.4 265.3L1261.7 264.5L1261.1 263.8L1260.4 263L1259.7 262.3L1259 261.6L1258.3 260.9L1257.6 260.2L1256.9 259.5L1256.2 258.8L1255.5 258.2L1254.7 257.6L1254 256.9L1253.2 256.3L1252.5 255.7L1251.7 255.1L1250.9 254.6L1250.2 254L1249.4 253.5L1248.6 253L1247.8 252.5L1247 252L1246.2 251.6L1245.4 251.2L1244.6 250.8L1243.8 250.4L1242.9 250L1242.1 249.7L1241.3 249.4L1240.5 249.1L1239.6 248.8L1238.8 248.6L1238 248.4L1237.1 248.1L1236.3 248L1235.5 247.8L1234.7 247.6L1233.9 247.5L1233.1 247.4L1232.3 247.3L1231.5 247.2Z" fill="#b1409b"/>
<g stroke="#fcc93b" stroke-width="4.7" stroke-linecap="round">
<line x1="924.2" y1="426.6" x2="949.4" y2="421.3"/>
<line x1="920.2" y1="449.7" x2="954.8" y2="440"/>
<line x1="919.7" y1="475.7" x2="958.9" y2="454.1"/>
<line x1="922.6" y1="501.4" x2="962.9" y2="470.5"/>
<line x1="930.3" y1="525.2" x2="961.2" y2="485.4"/>
<line x1="976.6" y1="475.5" x2="987" y2="517.2"/>
<line x1="986.3" y1="445" x2="1001.3" y2="531.1"/>
<line x1="1001.7" y1="406.2" x2="1017.3" y2="528.3"/>
<line x1="1019.2" y1="382.4" x2="1032.6" y2="514.5"/>
<line x1="1035.9" y1="369.9" x2="1044.1" y2="497.5"/>
<line x1="1056.8" y1="374.1" x2="1058" y2="455.5"/>
<line x1="1084.4" y1="381" x2="1088.6" y2="444.1"/>
<line x1="1098.2" y1="336.7" x2="1103.8" y2="481.5"/>
<line x1="1117.7" y1="309" x2="1118.4" y2="498.1"/>
<line x1="1137.1" y1="307.6" x2="1135" y2="502.3"/>
<line x1="1159.4" y1="336.7" x2="1150.7" y2="485.7"/>
<line x1="1182.4" y1="350.5" x2="1187.9" y2="417.5"/>
<line x1="1190.4" y1="312.5" x2="1202.6" y2="453.5"/>
<line x1="1201.4" y1="282.1" x2="1221.8" y2="475.5"/>
<line x1="1219.5" y1="258.5" x2="1238.3" y2="482.5"/>
<line x1="1247.2" y1="253" x2="1255.1" y2="469.5"/>
<line x1="1270.7" y1="282.1" x2="1278.1" y2="373.5"/>
<line x1="1298.4" y1="298.7" x2="1309.7" y2="422.9"/>
<line x1="1322.8" y1="221.1" x2="1335.2" y2="460.3"/>
<line x1="1349.8" y1="196.2" x2="1354.5" y2="460.3"/>
<line x1="1378.4" y1="201.2" x2="1369.9" y2="448.5"/>
<line x1="1398.5" y1="281.8" x2="1391.8" y2="395.2"/>
<line x1="1424.9" y1="310.5" x2="1424.9" y2="457.9"/>
<line x1="1443.5" y1="245.9" x2="1442.1" y2="515.2"/>
<line x1="1475.1" y1="197.6" x2="1459.2" y2="537.8"/>
<line x1="1508.4" y1="176.1" x2="1483.9" y2="536.7"/>
<line x1="1540.8" y1="176.1" x2="1503.8" y2="524.2"/>
</g>
<path d="M998.8 532.7L999.5 533L1000.1 533.4L1000.7 533.8L1001.3 534.1L1001.9 534.4L1002.4 534.7L1002.9 535L1003.5 535.3L1004 535.6L1004.5 535.8L1005 536L1005.6 536.3L1006.2 536.4L1006.8 536.6L1007.4 536.7L1008.1 536.8L1008.7 536.9L1009.4 536.9L1010 536.9L1010.6 536.9L1011.2 536.9L1011.7 536.9L1012.3 536.8L1012.9 536.8L1013.6 536.7L1014.2 536.6L1014.9 536.6L1015.7 536.5L1016.5 536.4L1017.3 536.3L1018.2 536.2L1019.1 536L1020 535.9L1021 535.7L1022 535.5L1023 535.3L1024 535L1025.1 534.7L1026.1 534.4L1027.2 534L1028.3 533.6L1029.4 533.2L1030.5 532.7L1031.6 532.2L1032.6 531.6L1033.6 530.9L1034.6 530.3L1035.6 529.6L1036.5 528.9L1037.5 528.1L1038.5 527.3L1039.4 526.5L1040.4 525.7L1041.3 524.8L1042.2 523.9L1043.2 523L1044.1 522L1045 521.1L1045.9 520.1L1046.8 519.1L1047.6 518L1048.5 517L1049.4 515.9L1050.2 514.8L1051 513.7L1051.9 512.6L1052.7 511.5L1053.5 510.3L1054.3 509.1L1055.1 507.9L1055.9 506.6L1056.7 505.3L1057.4 504L1058.2 502.7L1059 501.4L1059.7 500.1L1060.4 498.7L1061.1 497.3L1061.8 496L1062.5 494.6L1063.2 493.2L1063.8 491.8L1064.5 490.5L1065.1 489.1L1065.7 487.7L1066.3 486.3L1066.8 484.9L1067.4 483.4L1067.9 482L1068.4 480.6L1068.9 479.1L1069.4 477.7L1069.8 476.2L1070.3 474.8L1070.7 473.4L1071.1 471.9L1071.5 470.5L1071.9 469L1072.3 467.6L1072.7 466.2L1073 464.7L1073.4 463.3L1073.8 461.9L1074.1 460.5L1074.5 459.1L1074.8 457.7L1075.2 456.2L1075.5 454.8L1075.8 453.3L1076.2 451.9L1076.5 450.4L1076.8 449L1077.1 447.5L1077.4 446L1077.7 444.6L1077.9 443.2L1078.2 441.7L1078.5 440.3L1078.7 438.9L1079 437.5L1079.2 436.2L1079.4 434.8L1079.7 433.5L1079.9 432.2L1080.1 430.9L1080.3 429.6L1080.5 428.4L1080.7 427.2L1080.8 426L1081 424.8L1081.1 423.6L1081.3 422.5L1081.4 421.4L1081.5 420.2L1081.7 419.1L1081.8 418L1081.9 417L1082 415.9L1082.1 414.8L1082.2 413.8L1082.3 412.7L1082.4 411.6L1082.5 410.5L1082.6 409.5L1082.8 408.3L1082.9 407.2L1083 406L1083.1 404.9L1083.1 403.8L1083.2 402.8L1083.3 401.7L1083.3 400.7L1083.4 399.7L1083.4 398.7L1083.5 397.7L1083.5 396.7L1083.6 395.7L1083.7 394.6L1083.8 393.6L1083.9 392.5L1084 391.4L1084.2 390.2L1084.3 389L1084.5 387.8L1084.8 386.4L1085 385L1085.3 383.5L1085.7 381.9L1086 380.2L1086.4 378.5L1086.7 376.7L1087.1 374.9L1087.6 373.1L1088 371.2L1088.4 369.4L1088.9 367.5L1089.3 365.6L1089.8 363.8L1090.3 362L1090.7 360.2L1091.2 358.5L1091.7 356.8L1092.2 355.2L1092.6 353.6L1093.1 352.1L1093.6 350.7L1094.1 349.3L1094.5 347.9L1095 346.6L1095.5 345.2L1096.1 343.9L1096.6 342.7L1097.1 341.4L1097.6 340.2L1098.2 339L1098.7 337.8L1099.2 336.6L1099.8 335.5L1100.3 334.4L1100.9 333.3L1101.4 332.2L1101.9 331.2L1102.5 330.2L1103 329.2L1103.6 328.3L1104.1 327.4L1104.6 326.5L1105.1 325.7L1105.6 324.8L1106.2 324.1L1106.7 323.3L1107.2 322.6L1107.7 321.8L1108.3 321.2L1108.8 320.5L1109.3 319.8L1109.9 319.2L1110.4 318.6L1110.9 318L1111.4 317.4L1112 316.9L1112.5 316.3L1113 315.8L1113.6 315.3L1114.1 314.8L1114.6 314.3L1115.1 313.9L1115.6 313.5L1116.1 313L1116.5 312.7L1117 312.3L1117.4 312L1117.8 311.6L1118.2 311.3L1118.6 311.1L1119 310.8L1119.4 310.6L1119.8 310.4L1120.2 310.2L1120.5 310L1120.9 309.9L1121.2 309.7L1121.6 309.6L1121.9 309.5L1122.3 309.4L1122.6 309.3L1122.9 309.3L1123.3 309.3L1123.7 309.4L1124.1 309.4L1124.5 309.4L1125 309.4L1125.5 309.4L1126 309.3L1126.5 309.3L1127.1 309.2L1127.8 309.1L1128.4 309L1129.1 308.9L1129.8 308.8L1130.6 308.7L1131.4 308.5L1132.1 308.4L1132.9 308.3L1133.7 308.2L1134.5 308L1135.4 307.9L1136.2 307.8L1137 307.7L1137.9 307.7L1138.7 307.6L1139.6 307.6L1140.5 307.6L1141.3 307.7L1142.2 307.8L1143.1 307.9L1144 308.1L1144.9 308.4L1145.7 308.7L1146.6 309.1L1147.4 309.6L1148.1 310.1L1148.9 310.7L1148.9 310.7L1148.2 310.1L1147.5 309.5L1146.8 308.9L1146.1 308.3L1145.4 307.7L1144.7 307.2L1144 306.7L1143.3 306.2L1142.6 305.8L1141.9 305.3L1141.3 304.9L1140.6 304.5L1139.9 304.1L1139.2 303.8L1138.5 303.4L1137.9 303.1L1137.2 302.8L1136.5 302.4L1135.9 302.1L1135.2 301.8L1134.5 301.5L1133.8 301.2L1133.1 300.9L1132.4 300.7L1131.6 300.4L1130.9 300.2L1130.1 299.9L1129.3 299.7L1128.5 299.5L1127.7 299.3L1126.9 299.2L1126.1 299.1L1125.3 299L1124.4 298.9L1123.6 298.9L1122.7 298.9L1121.8 298.9L1120.9 299L1120.1 299.1L1119.3 299.2L1118.5 299.4L1117.7 299.6L1116.9 299.8L1116.1 300.1L1115.3 300.4L1114.6 300.7L1113.8 301L1113.1 301.4L1112.4 301.8L1111.7 302.2L1111 302.6L1110.3 303.1L1109.6 303.6L1108.9 304.1L1108.3 304.6L1107.6 305.1L1107 305.6L1106.3 306.2L1105.7 306.8L1105 307.4L1104.4 308L1103.7 308.6L1103 309.3L1102.4 309.9L1101.7 310.6L1101 311.4L1100.3 312.1L1099.7 312.9L1099 313.7L1098.3 314.5L1097.6 315.4L1097 316.2L1096.3 317.2L1095.6 318.1L1095 319.1L1094.3 320.1L1093.7 321.1L1093 322.1L1092.4 323.2L1091.8 324.3L1091.2 325.4L1090.6 326.5L1090 327.7L1089.4 328.9L1088.7 330.1L1088.1 331.3L1087.5 332.6L1086.9 333.9L1086.3 335.2L1085.7 336.6L1085.2 337.9L1084.6 339.3L1084 340.8L1083.5 342.2L1082.9 343.7L1082.4 345.2L1081.8 346.7L1081.3 348.3L1080.8 349.9L1080.2 351.6L1079.7 353.3L1079.2 355.1L1078.7 356.9L1078.2 358.8L1077.7 360.7L1077.2 362.6L1076.7 364.5L1076.3 366.5L1075.8 368.4L1075.4 370.3L1074.9 372.2L1074.5 374L1074.1 375.9L1073.7 377.6L1073.4 379.4L1073 381L1072.7 382.6L1072.4 384.2L1072.2 385.6L1071.9 387.1L1071.7 388.5L1071.5 389.8L1071.4 391.1L1071.2 392.3L1071.1 393.5L1071 394.7L1071 395.8L1070.9 396.9L1070.8 398L1070.8 399L1070.7 400.1L1070.7 401.1L1070.6 402.1L1070.6 403L1070.5 404L1070.4 405L1070.3 406L1070.2 407.1L1070.1 408.2L1070 409.3L1069.9 410.4L1069.8 411.4L1069.7 412.5L1069.6 413.6L1069.5 414.6L1069.4 415.7L1069.3 416.7L1069.2 417.8L1069 418.9L1068.9 419.9L1068.8 421L1068.7 422.1L1068.5 423.2L1068.4 424.3L1068.2 425.4L1068.1 426.5L1067.9 427.7L1067.7 428.9L1067.5 430.1L1067.3 431.4L1067.1 432.7L1066.8 434L1066.6 435.4L1066.4 436.7L1066.1 438.1L1065.9 439.4L1065.6 440.8L1065.4 442.2L1065.1 443.6L1064.8 445L1064.5 446.4L1064.2 447.8L1063.9 449.2L1063.6 450.6L1063.3 452L1063 453.4L1062.7 454.7L1062.3 456.1L1062 457.5L1061.6 458.9L1061.3 460.2L1060.9 461.6L1060.6 463L1060.2 464.4L1059.9 465.8L1059.5 467.2L1059.1 468.5L1058.7 469.9L1058.3 471.3L1057.9 472.6L1057.5 473.9L1057.1 475.3L1056.7 476.6L1056.2 477.9L1055.8 479.1L1055.3 480.4L1054.8 481.7L1054.3 482.9L1053.8 484.2L1053.2 485.4L1052.7 486.7L1052.1 488L1051.5 489.2L1050.9 490.5L1050.2 491.8L1049.6 493L1048.9 494.3L1048.3 495.5L1047.6 496.7L1046.9 497.9L1046.2 499.1L1045.5 500.3L1044.8 501.4L1044.2 502.5L1043.5 503.6L1042.8 504.6L1042.1 505.7L1041.4 506.7L1040.7 507.6L1039.9 508.6L1039.2 509.5L1038.5 510.5L1037.7 511.4L1037 512.3L1036.2 513.1L1035.5 514L1034.7 514.8L1033.9 515.6L1033.2 516.4L1032.4 517.2L1031.6 517.9L1030.9 518.6L1030.1 519.3L1029.4 519.9L1028.7 520.5L1027.9 521L1027.2 521.6L1026.6 522L1026 522.5L1025.3 522.9L1024.7 523.2L1024 523.6L1023.4 524L1022.7 524.5L1022 525L1021.4 525.6L1020.7 526.1L1020 526.7L1019.2 527.3L1018.5 527.9L1017.8 528.5L1017.1 529.1L1016.4 529.6L1015.7 530.2L1015 530.7L1014.3 531.2L1013.7 531.7L1013.1 532.2L1012.5 532.6L1012 532.9L1011.5 533.3L1011 533.6L1010.5 533.8L1010 534L1009.5 534.2L1009 534.3L1008.5 534.5L1008 534.5L1007.4 534.6L1006.8 534.6L1006.3 534.6L1005.7 534.6L1005.1 534.5L1004.6 534.5L1004 534.4L1003.4 534.3L1002.8 534.1L1002.1 534L1001.5 533.8L1000.8 533.6L1000.2 533.3L999.5 533L998.8 532.7Z" fill="#0f5dac"/>
<path d="M1217.4 479.2L1218.1 479.8L1218.7 480.4L1219.3 480.9L1220 481.5L1220.6 482L1221.2 482.5L1221.9 483L1222.5 483.5L1223.1 483.9L1223.8 484.3L1224.4 484.7L1225 485.1L1225.6 485.5L1226.3 485.9L1226.9 486.3L1227.6 486.6L1228.3 487L1228.9 487.3L1229.6 487.6L1230.3 487.9L1231 488.2L1231.7 488.4L1232.4 488.7L1233.1 488.9L1233.8 489.1L1234.6 489.3L1235.3 489.5L1236 489.6L1236.7 489.7L1237.5 489.8L1238.2 489.9L1239 490L1239.7 490L1240.5 490L1241.2 490L1241.9 490L1242.6 489.9L1243.3 489.9L1244.1 489.8L1244.8 489.7L1245.5 489.6L1246.3 489.5L1247 489.3L1247.7 489.1L1248.5 488.9L1249.2 488.7L1249.9 488.4L1250.7 488.1L1251.4 487.8L1252.1 487.4L1252.9 487.1L1253.6 486.6L1254.3 486.2L1255 485.8L1255.6 485.3L1256.2 484.8L1256.8 484.3L1257.4 483.8L1258 483.3L1258.6 482.7L1259.2 482.2L1259.8 481.5L1260.4 480.9L1260.9 480.3L1261.5 479.6L1262 478.9L1262.6 478.1L1263.1 477.3L1263.6 476.5L1264.2 475.7L1264.7 474.8L1265.2 473.9L1265.7 473L1266.2 472L1266.6 471L1267.1 470L1267.6 468.9L1268 467.7L1268.5 466.6L1268.9 465.4L1269.4 464.2L1269.8 462.9L1270.2 461.7L1270.6 460.4L1271 459.1L1271.4 457.8L1271.8 456.5L1272.2 455.2L1272.6 453.9L1273 452.6L1273.3 451.3L1273.7 450L1274 448.7L1274.3 447.5L1274.7 446.2L1275 444.8L1275.3 443.5L1275.6 442.1L1275.9 440.8L1276.2 439.4L1276.5 438L1276.8 436.6L1277.1 435.3L1277.3 433.9L1277.6 432.5L1277.8 431.2L1278.1 429.8L1278.3 428.5L1278.5 427.2L1278.8 426L1279 424.7L1279.2 423.5L1279.4 422.3L1279.7 421.2L1279.9 420L1280.1 418.9L1280.3 417.8L1280.5 416.8L1280.7 415.7L1280.9 414.7L1281.1 413.7L1281.3 412.7L1281.4 411.7L1281.6 410.8L1281.8 409.8L1282 408.8L1282.1 407.9L1282.3 406.9L1282.5 406L1282.6 405L1282.8 404.1L1283 403.1L1283.2 402.2L1283.4 401.2L1283.5 400.2L1283.7 399.2L1283.9 398.3L1284.1 397.3L1284.3 396.4L1284.5 395.5L1284.7 394.5L1284.9 393.6L1285.1 392.6L1285.3 391.7L1285.5 390.7L1285.7 389.7L1285.9 388.7L1286.1 387.7L1286.3 386.6L1286.5 385.6L1286.7 384.5L1286.9 383.3L1287.1 382.2L1287.3 381L1287.5 379.8L1287.7 378.6L1287.9 377.5L1288.1 376.3L1288.2 375.2L1288.4 374.1L1288.6 372.9L1288.8 371.8L1289 370.6L1289.2 369.3L1289.4 368.1L1289.6 366.7L1289.8 365.3L1290 363.8L1290.2 362.3L1290.5 360.7L1290.7 358.9L1291 357.1L1291.2 355.1L1291.5 353.1L1291.8 350.8L1292.2 348.4L1292.5 345.8L1292.8 343.1L1293.2 340.3L1293.5 337.4L1293.9 334.4L1294.2 331.3L1294.6 328.2L1295 325.1L1295.4 321.9L1295.8 318.8L1296.2 315.7L1296.6 312.6L1297 309.5L1297.4 306.6L1297.9 303.7L1298.3 300.9L1298.7 298.3L1299.2 295.8L1299.6 293.4L1300.1 291L1300.6 288.7L1301.1 286.3L1301.6 284L1302.2 281.7L1302.7 279.4L1303.3 277.2L1303.9 275L1304.4 272.9L1305 270.8L1305.6 268.7L1306.1 266.8L1306.7 264.8L1307.2 263L1307.7 261.2L1308.2 259.5L1308.7 257.8L1309.1 256.3L1309.5 254.8L1309.9 253.4L1310.2 252.2L1310.5 251.1L1310.8 250.2L1311 249.3L1311.2 248.6L1311.4 247.9L1311.6 247.3L1311.8 246.8L1311.9 246.3L1312.1 245.8L1312.2 245.4L1312.4 245L1312.6 244.5L1312.8 244L1313 243.5L1313.3 242.9L1313.6 242.2L1313.9 241.4L1314.3 240.6L1314.7 239.7L1315.1 238.7L1315.6 237.7L1316.1 236.8L1316.5 235.7L1317 234.7L1317.6 233.6L1318.1 232.6L1318.6 231.5L1319.2 230.4L1319.7 229.4L1320.3 228.3L1320.9 227.2L1321.5 226.2L1322.1 225.1L1322.6 224.1L1323.2 223.1L1323.8 222.1L1324.4 221.2L1325 220.3L1325.6 219.4L1326.2 218.4L1326.9 217.5L1327.6 216.6L1328.3 215.6L1329 214.7L1329.8 213.7L1330.5 212.8L1331.2 211.9L1332 211L1332.7 210.1L1333.5 209.2L1334.2 208.4L1334.9 207.6L1335.6 206.8L1336.3 206.1L1337 205.4L1337.6 204.7L1338.2 204.1L1338.8 203.5L1339.3 203L1339.8 202.6L1340.2 202.2L1340.6 201.9L1341 201.5L1341.4 201.2L1341.7 201L1342.1 200.7L1342.4 200.5L1342.7 200.3L1343.1 200.1L1343.5 199.9L1343.8 199.7L1344.2 199.5L1344.6 199.3L1345.1 199.1L1345.5 199L1346 198.8L1346.6 198.6L1347.1 198.3L1347.7 198.1L1348.2 197.9L1348.7 197.7L1349.2 197.5L1349.6 197.3L1350 197.1L1350.4 196.9L1350.8 196.7L1351.1 196.6L1351.4 196.4L1351.7 196.3L1352 196.2L1352.2 196.1L1352.5 196L1352.8 196L1353 195.9L1353.3 195.9L1353.6 195.9L1354 195.9L1354.4 196L1354.9 196.1L1355.5 196.2L1356.1 196.3L1356.7 196.4L1357.3 196.6L1357.9 196.7L1358.6 196.8L1359.3 196.8L1360 196.9L1360.7 197L1361.4 197L1362.1 197.1L1362.8 197.1L1363.6 197.2L1364.4 197.2L1365.2 197.3L1366 197.4L1366.8 197.5L1367.6 197.6L1368.5 197.8L1369.4 198L1370.3 198.3L1371.3 198.6L1372.3 199L1373.3 199.4L1374.4 199.9L1375.5 200.4L1376.5 201L1377.6 201.6L1378.6 202.2L1379.6 202.9L1380.6 203.7L1381.6 204.4L1382.5 205.3L1383.3 206.1L1384.1 207L1384.8 208L1385.5 208.9L1386.1 209.9L1386.1 209.9L1385.5 208.9L1385 207.9L1384.4 206.9L1383.9 205.8L1383.3 204.8L1382.7 203.8L1382.1 202.8L1381.5 201.8L1380.8 200.8L1380.2 199.8L1379.5 198.9L1378.8 197.9L1378.1 197L1377.4 196.1L1376.7 195.3L1375.9 194.4L1375.1 193.6L1374.3 192.9L1373.4 192.1L1372.5 191.4L1371.6 190.8L1370.6 190.2L1369.6 189.7L1368.7 189.2L1367.7 188.7L1366.8 188.3L1365.8 187.9L1364.9 187.6L1363.9 187.3L1363 187L1362.1 186.8L1361.2 186.6L1360.4 186.4L1359.5 186.2L1358.7 186L1357.9 185.9L1357.1 185.8L1356.4 185.7L1355.6 185.6L1354.8 185.5L1354 185.5L1353.2 185.5L1352.4 185.5L1351.6 185.6L1350.8 185.6L1350.1 185.7L1349.4 185.9L1348.7 186L1348 186.2L1347.4 186.4L1346.8 186.6L1346.3 186.8L1345.7 187L1345.2 187.2L1344.7 187.4L1344.2 187.6L1343.8 187.9L1343.3 188.1L1342.9 188.3L1342.4 188.5L1342 188.6L1341.5 188.8L1341 189L1340.5 189.2L1340 189.4L1339.4 189.7L1338.9 189.9L1338.3 190.2L1337.7 190.4L1337 190.7L1336.4 191.1L1335.7 191.4L1335 191.8L1334.4 192.3L1333.7 192.8L1333 193.3L1332.3 193.8L1331.5 194.4L1330.8 195.1L1330.1 195.7L1329.4 196.4L1328.6 197.2L1327.8 198L1327 198.8L1326.2 199.6L1325.4 200.5L1324.6 201.4L1323.8 202.4L1322.9 203.3L1322.1 204.3L1321.3 205.3L1320.5 206.3L1319.6 207.3L1318.8 208.3L1318 209.4L1317.2 210.4L1316.5 211.5L1315.7 212.5L1315 213.5L1314.3 214.6L1313.6 215.7L1312.9 216.8L1312.2 217.9L1311.5 219L1310.9 220.2L1310.2 221.3L1309.6 222.5L1308.9 223.6L1308.3 224.8L1307.7 225.9L1307.1 227.1L1306.6 228.2L1306 229.3L1305.5 230.4L1305 231.5L1304.5 232.5L1304 233.5L1303.5 234.5L1303.1 235.4L1302.7 236.3L1302.3 237.1L1302 237.8L1301.7 238.5L1301.4 239.1L1301.2 239.8L1300.9 240.4L1300.6 241L1300.4 241.6L1300.2 242.3L1299.9 242.9L1299.7 243.6L1299.5 244.3L1299.3 245.1L1299 245.9L1298.8 246.8L1298.5 247.8L1298.2 248.9L1297.9 250.1L1297.5 251.4L1297.1 252.9L1296.7 254.4L1296.2 256L1295.7 257.8L1295.2 259.6L1294.6 261.4L1294.1 263.4L1293.5 265.4L1293 267.5L1292.4 269.6L1291.8 271.8L1291.2 274.1L1290.6 276.4L1290 278.7L1289.5 281.1L1288.9 283.6L1288.4 286L1287.8 288.5L1287.3 291L1286.8 293.6L1286.4 296.2L1285.9 298.9L1285.5 301.8L1285 304.8L1284.6 307.8L1284.1 310.9L1283.7 314L1283.3 317.2L1282.9 320.4L1282.5 323.5L1282.1 326.7L1281.8 329.8L1281.4 332.9L1281 335.9L1280.7 338.8L1280.3 341.6L1280 344.3L1279.7 346.8L1279.4 349.1L1279.1 351.3L1278.8 353.4L1278.5 355.3L1278.3 357.2L1278 358.9L1277.8 360.5L1277.6 362L1277.3 363.5L1277.1 364.9L1276.9 366.2L1276.8 367.4L1276.6 368.7L1276.4 369.8L1276.2 371L1276 372.1L1275.8 373.2L1275.7 374.3L1275.5 375.4L1275.3 376.5L1275.1 377.7L1274.9 378.8L1274.7 380L1274.5 381.1L1274.3 382.2L1274.1 383.3L1273.9 384.3L1273.7 385.3L1273.6 386.3L1273.4 387.3L1273.2 388.2L1273 389.2L1272.8 390.1L1272.6 391.1L1272.4 392L1272.2 393L1272 393.9L1271.8 394.9L1271.6 395.8L1271.4 396.8L1271.2 397.8L1271 398.8L1270.8 399.8L1270.7 400.8L1270.5 401.8L1270.3 402.8L1270.1 403.7L1270 404.7L1269.8 405.7L1269.6 406.6L1269.4 407.6L1269.3 408.5L1269.1 409.5L1268.9 410.5L1268.7 411.4L1268.5 412.4L1268.4 413.4L1268.2 414.5L1268 415.5L1267.8 416.6L1267.6 417.7L1267.3 418.8L1267.1 420L1266.9 421.2L1266.7 422.5L1266.4 423.7L1266.2 425L1266 426.3L1265.7 427.6L1265.5 428.9L1265.2 430.2L1265 431.6L1264.7 432.9L1264.5 434.2L1264.2 435.5L1264 436.9L1263.7 438.1L1263.4 439.4L1263.1 440.7L1262.8 441.9L1262.6 443.1L1262.3 444.3L1261.9 445.5L1261.6 446.8L1261.3 448L1260.9 449.3L1260.6 450.5L1260.2 451.8L1259.9 453L1259.5 454.2L1259.1 455.4L1258.8 456.6L1258.4 457.8L1258 459L1257.6 460.1L1257.3 461.2L1256.9 462.2L1256.5 463.2L1256.1 464.2L1255.8 465.1L1255.4 466L1255 466.8L1254.7 467.5L1254.3 468.2L1254 468.9L1253.6 469.6L1253.3 470.2L1252.9 470.8L1252.6 471.3L1252.3 471.9L1251.9 472.4L1251.6 472.8L1251.3 473.3L1250.9 473.7L1250.6 474.1L1250.2 474.5L1249.9 474.9L1249.5 475.3L1249.2 475.6L1248.8 476L1248.4 476.3L1248 476.6L1247.7 476.9L1247.4 477.2L1247.1 477.5L1246.7 477.7L1246.4 477.9L1246 478.1L1245.7 478.3L1245.3 478.5L1244.9 478.7L1244.6 478.9L1244.2 479.1L1243.8 479.3L1243.4 479.5L1243 479.7L1242.6 480L1242.2 480.2L1241.8 480.4L1241.4 480.7L1241 480.9L1240.5 481.1L1240.1 481.3L1239.6 481.5L1239.2 481.7L1238.7 481.9L1238.1 482.1L1237.6 482.3L1237 482.5L1236.4 482.6L1235.8 482.8L1235.1 482.9L1234.5 483L1233.8 483.1L1233.1 483.2L1232.4 483.3L1231.7 483.4L1230.9 483.4L1230.2 483.4L1229.4 483.4L1228.6 483.4L1227.8 483.3L1227.1 483.3L1226.3 483.2L1225.5 483L1224.8 482.9L1224 482.7L1223.2 482.5L1222.5 482.2L1221.7 481.9L1220.9 481.6L1220.2 481.2L1219.5 480.8L1218.8 480.3L1218.1 479.8L1217.4 479.2Z" fill="#0f5dac"/>
<path d="M1447.1 533.4L1447.8 534.4L1448.5 535.4L1449.3 536.3L1450 537.2L1450.8 538.1L1451.6 538.9L1452.4 539.7L1453.2 540.5L1454 541.2L1454.9 541.9L1455.7 542.5L1456.5 543.1L1457.3 543.7L1458.1 544.3L1458.9 544.8L1459.8 545.3L1460.6 545.7L1461.3 546.1L1462.1 546.5L1462.9 546.9L1463.7 547.3L1464.4 547.6L1465.1 547.9L1465.9 548.2L1466.6 548.5L1467.4 548.8L1468.2 549L1468.9 549.2L1469.7 549.4L1470.5 549.5L1471.2 549.7L1472 549.7L1472.7 549.8L1473.5 549.9L1474.2 549.9L1474.9 549.9L1475.6 549.9L1476.4 549.9L1477.1 549.8L1477.8 549.8L1478.5 549.7L1479.2 549.6L1479.9 549.5L1480.6 549.4L1481.4 549.3L1482.1 549.1L1482.9 549L1483.7 548.8L1484.5 548.6L1485.3 548.4L1486.2 548.1L1487 547.9L1487.8 547.6L1488.6 547.3L1489.4 547L1490.2 546.7L1491.1 546.4L1491.9 546L1492.7 545.7L1493.5 545.3L1494.3 544.9L1495.1 544.5L1495.9 544.1L1496.8 543.7L1497.6 543.2L1498.4 542.7L1499.2 542.3L1500 541.8L1500.8 541.2L1501.6 540.7L1502.4 540.2L1503.2 539.6L1504 539L1504.7 538.5L1505.5 537.9L1506.3 537.3L1507 536.7L1507.8 536.1L1508.6 535.4L1509.3 534.8L1510 534.2L1510.8 533.6L1511.5 532.9L1512.2 532.3L1513 531.6L1513.8 530.9L1514.6 530.1L1515.3 529.3L1516.1 528.5L1516.9 527.7L1517.7 526.9L1518.4 526.1L1519.2 525.3L1519.9 524.5L1520.6 523.7L1521.3 522.9L1521.9 522.2L1522.6 521.5L1523.1 520.8L1523.7 520.2L1524.1 519.6L1524.6 519.1L1524.9 518.7L1525.3 518.4L1516.5 510.4L1516.2 510.8L1515.7 511.3L1515.3 511.8L1514.8 512.4L1514.2 513L1513.6 513.7L1513 514.4L1512.4 515.1L1511.8 515.8L1511.1 516.6L1510.4 517.4L1509.7 518.1L1509 518.9L1508.3 519.7L1507.6 520.4L1506.9 521.2L1506.3 521.8L1505.6 522.5L1505 523.1L1504.4 523.7L1503.8 524.3L1503.1 524.9L1502.5 525.5L1501.8 526L1501.1 526.6L1500.5 527.2L1499.8 527.7L1499.1 528.3L1498.4 528.8L1497.8 529.4L1497.1 529.9L1496.4 530.4L1495.8 530.9L1495.1 531.4L1494.4 531.9L1493.8 532.3L1493.1 532.7L1492.5 533.2L1491.9 533.6L1491.2 533.9L1490.6 534.3L1490 534.7L1489.3 535L1488.7 535.4L1488 535.7L1487.4 536L1486.7 536.3L1486.1 536.6L1485.4 536.9L1484.8 537.2L1484.1 537.4L1483.5 537.6L1482.9 537.9L1482.2 538.1L1481.6 538.3L1481 538.5L1480.5 538.7L1479.9 538.9L1479.4 539.1L1478.8 539.3L1478.3 539.5L1477.8 539.7L1477.2 539.9L1476.8 540.1L1476.3 540.3L1475.8 540.5L1475.4 540.7L1474.9 540.9L1474.5 541L1474 541.2L1473.6 541.3L1473.1 541.4L1472.6 541.6L1472.1 541.7L1471.6 541.8L1471 541.9L1470.5 541.9L1469.8 542L1469.2 542L1468.5 542L1467.8 542L1467 542L1466.2 542L1465.4 542L1464.6 542L1463.7 541.9L1462.9 541.8L1462 541.7L1461.1 541.5L1460.1 541.4L1459.2 541.2L1458.2 540.9L1457.2 540.6L1456.2 540.2L1455.2 539.8L1454.3 539.4L1453.3 538.9L1452.3 538.3L1451.3 537.6L1450.4 536.9L1449.5 536.1L1448.6 535.3L1447.8 534.4L1447.1 533.4Z" fill="#0f5dac"/>
<path d="M874 306L874.4 305.8L874.8 305.5L875.1 305.1L875.5 304.7L876 304.2L876.4 303.7L876.9 303.1L877.4 302.5L877.9 301.9L878.4 301.3L878.9 300.6L879.5 300L880 299.3L880.5 298.7L881 298L881.5 297.4L881.9 296.8L882.4 296.2L882.8 295.6L883.2 295.1L883.6 294.5L884 294L884.4 293.5L884.7 293L885.1 292.5L885.4 292L885.7 291.5L886 291.1L886.4 290.6L886.7 290.1L887 289.7L887.3 289.2L887.6 288.8L887.9 288.3L888.3 287.9L888.6 287.4L888.9 287L889.2 286.5L889.6 286.1L889.9 285.6L890.3 285.2L890.7 284.7L891 284.2L891.4 283.8L891.8 283.3L892.2 282.8L892.5 282.4L892.9 281.9L893.3 281.4L893.7 281L894.1 280.5L894.5 280.1L894.9 279.6L895.3 279.2L895.7 278.7L896.1 278.2L896.5 277.8L896.9 277.3L897.4 276.9L897.8 276.4L898.3 276L898.7 275.5L899.2 275L899.7 274.5L900.2 274L900.7 273.5L901.2 273.1L901.8 272.6L902.3 272.1L902.8 271.6L903.3 271.1L903.8 270.7L904.3 270.2L904.9 269.8L905.4 269.4L905.9 268.9L906.4 268.6L906.8 268.2L907.3 267.9L907.7 267.5L908.2 267.2L908.6 266.9L909.1 266.7L909.5 266.4L910 266.1L910.4 265.9L910.9 265.6L911.3 265.4L911.8 265.2L912.3 265L912.7 264.8L913.2 264.6L913.6 264.4L914.1 264.2L914.6 264L915 263.8L915.5 263.6L916 263.4L916.5 263.3L916.9 263.1L917.4 262.9L917.8 262.8L918.3 262.6L918.7 262.5L919.1 262.3L919.5 262.2L919.9 262.1L920.3 262L920.7 261.9L921 261.8L921.4 261.7L921.7 261.6L922.1 261.5L922.4 261.5L922.7 261.4L923.1 261.4L923.4 261.4L923.7 261.3L924 261.3L924.3 261.3L924.6 261.3L925 261.3L925.3 261.3L925.7 261.4L926 261.4L926.4 261.5L926.7 261.5L927.1 261.6L927.4 261.6L927.7 261.7L928.1 261.8L928.4 261.8L928.7 261.9L929.1 262L929.4 262.1L929.7 262.2L930 262.3L930.2 262.4L930.5 262.5L930.8 262.6L931 262.8L931.3 262.9L931.5 263L931.8 263.2L932.1 263.4L932.3 263.5L932.6 263.7L932.8 263.9L933.1 264.1L933.3 264.3L933.5 264.5L933.8 264.7L934 264.9L934.2 265.1L934.4 265.3L934.6 265.6L934.8 265.8L935 266L935.2 266.3L935.4 266.5L935.6 266.8L935.7 267L935.9 267.3L936.1 267.6L936.2 267.8L936.4 268.1L936.5 268.4L936.7 268.7L936.8 269L937 269.4L937.1 269.7L937.3 270.1L937.4 270.4L937.5 270.8L937.7 271.2L937.8 271.6L937.9 272L938.1 272.5L938.2 272.9L938.3 273.4L938.4 273.9L938.5 274.4L938.6 274.9L938.7 275.4L938.8 276L938.9 276.6L939 277.1L939.1 277.8L939.1 278.4L939.2 279L939.3 279.7L939.3 280.3L939.4 281L939.5 281.6L939.5 282.3L939.6 283L939.6 283.6L939.6 284.3L939.7 285L939.7 285.7L939.7 286.3L939.8 287L939.8 287.6L939.8 288.3L939.8 288.9L939.8 289.5L939.8 290.2L939.8 290.8L939.8 291.5L939.8 292.2L939.7 292.8L939.7 293.5L939.7 294.2L939.6 294.9L939.6 295.6L939.6 296.4L939.5 297.1L939.4 297.9L939.4 298.7L939.3 299.5L939.3 300.4L939.2 301.2L939.1 302.1L939 303L938.9 303.9L938.8 304.9L938.7 305.8L938.6 306.8L938.5 307.8L938.4 308.7L938.3 309.7L938.1 310.7L938 311.7L937.9 312.7L937.7 313.7L937.6 314.7L937.5 315.6L937.3 316.6L937.1 317.6L937 318.5L936.8 319.4L936.7 320.4L936.5 321.3L936.3 322.2L936.1 323.2L935.9 324.1L935.7 325L935.5 326L935.3 327L935 327.9L934.8 328.9L934.6 329.9L934.4 330.8L934.1 331.8L933.9 332.8L933.7 333.8L933.5 334.8L933.2 335.8L933 336.8L932.8 337.8L932.6 338.8L932.4 339.8L932.2 340.8L932.1 341.8L931.9 342.8L931.7 343.8L931.5 344.8L931.3 345.8L931.2 346.8L931 347.8L930.8 348.8L930.6 349.7L930.5 350.7L930.3 351.7L930.1 352.7L929.9 353.6L929.8 354.6L929.6 355.6L929.4 356.5L929.2 357.5L929 358.4L928.8 359.4L928.6 360.3L928.5 361.3L928.3 362.3L928.1 363.2L927.8 364.2L927.6 365.1L927.4 366.1L927.2 367.1L927 368L926.8 369L926.6 370L926.4 371L926.2 371.9L926 372.9L925.8 373.9L925.6 374.9L925.4 375.9L925.2 376.9L925 377.9L924.8 378.9L924.7 379.9L924.5 380.8L924.3 381.8L924.3 381.8L924.5 380.9L924.7 379.9L924.9 378.9L925.2 377.9L925.5 376.9L925.7 376L926.1 375L926.4 374L926.7 373.1L927.1 372.1L927.5 371.2L927.9 370.2L928.3 369.3L928.7 368.4L929.1 367.5L929.5 366.5L930 365.6L930.4 364.7L930.9 363.8L931.3 362.9L931.8 362L932.2 361.1L932.7 360.2L933.2 359.3L933.7 358.3L934.1 357.4L934.6 356.5L935.1 355.6L935.6 354.7L936 353.7L936.5 352.8L937 351.9L937.4 350.9L937.9 350L938.4 349.1L938.8 348.2L939.3 347.2L939.7 346.3L940.2 345.4L940.6 344.4L941 343.5L941.5 342.6L941.9 341.7L942.3 340.7L942.7 339.8L943.1 338.9L943.5 338L943.9 337.1L944.3 336.2L944.7 335.3L945 334.3L945.4 333.4L945.7 332.4L946 331.5L946.4 330.5L946.6 329.6L946.9 328.6L947.2 327.6L947.4 326.6L947.6 325.6L947.8 324.6L948 323.6L948.2 322.5L948.4 321.5L948.6 320.5L948.8 319.5L948.9 318.4L949.1 317.4L949.3 316.4L949.4 315.3L949.6 314.3L949.7 313.3L949.8 312.2L950 311.2L950.1 310.1L950.2 309.1L950.3 308.1L950.4 307.1L950.5 306.1L950.6 305.1L950.7 304.2L950.8 303.2L950.9 302.3L951 301.4L951.1 300.5L951.1 299.6L951.2 298.8L951.3 297.9L951.3 297.1L951.4 296.3L951.4 295.5L951.5 294.8L951.5 294L951.5 293.2L951.5 292.5L951.6 291.7L951.6 291L951.6 290.3L951.6 289.5L951.6 288.8L951.6 288.1L951.6 287.3L951.5 286.6L951.5 285.9L951.5 285.1L951.5 284.4L951.4 283.7L951.4 282.9L951.3 282.2L951.3 281.4L951.2 280.7L951.2 279.9L951.1 279.2L951 278.4L950.9 277.7L950.8 277L950.8 276.2L950.7 275.5L950.5 274.8L950.4 274L950.3 273.3L950.2 272.6L950 271.9L949.9 271.2L949.7 270.6L949.5 269.9L949.4 269.3L949.2 268.7L949 268.1L948.8 267.5L948.6 266.9L948.4 266.3L948.2 265.8L947.9 265.2L947.7 264.6L947.4 264.1L947.2 263.5L946.9 263L946.6 262.5L946.3 262L946 261.5L945.7 261L945.3 260.5L945 260L944.6 259.5L944.2 259L943.8 258.6L943.4 258.1L943 257.7L942.6 257.2L942.1 256.8L941.7 256.4L941.2 256L940.8 255.7L940.3 255.3L939.8 254.9L939.4 254.6L938.9 254.3L938.4 254L937.9 253.7L937.3 253.4L936.8 253.1L936.3 252.8L935.8 252.6L935.2 252.4L934.7 252.1L934.1 251.9L933.6 251.7L933 251.6L932.4 251.4L931.8 251.3L931.3 251.1L930.7 251L930.1 250.9L929.5 250.8L928.9 250.7L928.3 250.7L927.8 250.6L927.2 250.6L926.6 250.6L926 250.6L925.4 250.6L924.9 250.6L924.3 250.6L923.7 250.7L923.1 250.7L922.5 250.8L921.9 250.9L921.4 251L920.8 251.1L920.3 251.2L919.7 251.4L919.2 251.5L918.6 251.7L918.1 251.9L917.6 252L917.1 252.2L916.5 252.4L916 252.6L915.5 252.8L915 253L914.5 253.2L914.1 253.5L913.6 253.7L913.1 253.9L912.6 254.2L912.1 254.4L911.6 254.6L911.1 254.9L910.6 255.1L910 255.4L909.5 255.7L909 256L908.4 256.3L907.9 256.6L907.3 256.9L906.8 257.3L906.2 257.6L905.6 258L905.1 258.3L904.5 258.7L903.9 259.1L903.4 259.6L902.8 260L902.3 260.5L901.7 260.9L901.2 261.4L900.6 261.9L900.1 262.5L899.5 263L899 263.6L898.5 264.1L897.9 264.7L897.4 265.3L896.9 265.8L896.4 266.4L895.9 267L895.4 267.6L894.9 268.2L894.4 268.7L894 269.3L893.5 269.9L893.1 270.5L892.6 271L892.2 271.6L891.8 272.1L891.4 272.7L890.9 273.2L890.5 273.8L890.2 274.3L889.8 274.8L889.4 275.4L889 275.9L888.7 276.5L888.3 277L888 277.6L887.6 278.1L887.3 278.6L887 279.2L886.6 279.7L886.3 280.2L886 280.8L885.7 281.3L885.4 281.8L885.1 282.4L884.8 282.9L884.4 283.4L884.2 284L883.9 284.5L883.6 285L883.3 285.6L883.1 286.1L882.8 286.6L882.6 287.1L882.3 287.6L882.1 288.1L881.8 288.6L881.6 289.2L881.3 289.7L881.1 290.2L880.8 290.7L880.6 291.3L880.3 291.8L880 292.4L879.8 292.9L879.5 293.5L879.2 294.2L878.8 294.8L878.5 295.5L878.1 296.3L877.8 297L877.4 297.7L877 298.5L876.7 299.2L876.3 300L876 300.7L875.7 301.4L875.3 302.1L875.1 302.8L874.8 303.4L874.5 304L874.3 304.6L874.2 305.1L874 305.6L874 306Z" fill="#753a96"/>
<path d="M921.9 512.2L922.3 513.2L922.7 514.3L923.1 515.3L923.5 516.2L923.9 517.2L924.4 518.1L924.8 519.1L925.3 520.1L925.8 521L926.3 522L926.8 523L927.4 523.9L927.9 524.8L928.5 525.7L929.2 526.6L929.9 527.5L930.6 528.3L931.4 529.1L932.3 529.8L933.3 530.5L934.4 531.1L935.6 531.6L936.9 532L938.1 532.2L939.2 532.3L940.4 532.2L941.5 532.1L942.6 532L943.6 531.7L944.7 531.4L945.7 531L946.7 530.5L947.7 530L948.6 529.4L949.6 528.8L950.5 528.1L951.4 527.4L952.3 526.6L953.2 525.8L954.1 524.9L954.9 524L955.8 523L956.6 522L957.4 520.9L958.3 519.7L959.1 518.5L959.9 517.1L960.6 515.8L961.4 514.4L962.2 512.9L962.9 511.4L963.7 509.9L964.4 508.4L965.1 506.8L965.9 505.3L966.6 503.7L967.3 502.1L968 500.6L968.6 499L969.3 497.5L970 496L970.6 494.6L971.2 493.2L971.9 491.8L972.5 490.4L973.1 488.9L973.7 487.5L974.3 486.1L974.9 484.7L975.4 483.3L976 481.9L976.5 480.5L977.1 479.1L977.6 477.7L978.2 476.3L978.7 474.9L979.2 473.5L979.8 472.1L980.3 470.8L980.8 469.4L981.4 468L981.9 466.6L982.4 465.3L983 463.9L983.5 462.5L984.1 461.1L984.6 459.7L985.2 458.3L985.7 457L986.3 455.6L986.8 454.2L987.4 452.8L987.9 451.4L988.5 450L989 448.6L989.6 447.3L990.1 445.9L990.7 444.5L991.2 443.1L991.8 441.7L992.3 440.3L992.9 439L993.4 437.6L994 436.2L994.6 434.8L995.1 433.3L995.6 431.9L996.2 430.6L996.7 429.2L997.2 427.8L997.7 426.4L998.3 425L998.8 423.7L999.3 422.3L999.8 420.9L1000.4 419.6L1000.9 418.2L1001.5 416.9L1002 415.5L1002.6 414.2L1003.2 412.8L1003.8 411.5L1004.4 410.2L1005 408.8L1005.7 407.4L1006.4 406L1007.1 404.5L1007.8 403L1008.6 401.6L1009.3 400.1L1010 398.6L1010.8 397.2L1011.6 395.7L1012.3 394.3L1013.1 392.9L1013.8 391.5L1014.6 390.2L1015.3 388.9L1016 387.6L1016.8 386.4L1017.4 385.3L1018.1 384.2L1018.8 383.2L1019.4 382.2L1020 381.3L1020.6 380.4L1021.2 379.6L1021.8 378.8L1022.4 378L1023 377.3L1023.6 376.6L1024.2 375.9L1024.7 375.3L1025.3 374.7L1025.8 374.1L1026.4 373.6L1026.9 373.1L1027.4 372.6L1027.9 372.2L1028.4 371.7L1028.9 371.3L1029.4 371L1029.8 370.6L1030.2 370.3L1030.5 370.1L1030.8 369.9L1031.1 369.8L1031.3 369.6L1031.6 369.5L1031.8 369.4L1032 369.4L1032.3 369.3L1032.5 369.2L1032.8 369.2L1033.1 369.1L1033.4 369.1L1033.7 369.1L1034.1 369.1L1034.5 369.1L1035 369.1L1035.4 369.1L1036 369.1L1036.5 369.1L1036.9 369.1L1037.3 369.1L1037.8 369.1L1038.2 369.2L1038.6 369.2L1039 369.3L1039.5 369.3L1039.9 369.3L1040.3 369.4L1040.8 369.4L1041.2 369.3L1041.6 369.3L1042.1 369.3L1042.5 369.2L1043 369.2L1043.4 369.1L1043.9 369.1L1044.4 369.1L1044.8 369L1045.3 369L1045.9 369L1046.4 368.9L1046.9 369L1047.4 369L1048 369L1048.5 369.1L1049.1 369.1L1049.7 369.2L1050.3 369.3L1050.9 369.4L1051.6 369.6L1052.2 369.8L1052.9 370L1053.6 370.2L1054.4 370.4L1055.1 370.7L1055.9 371L1056.6 371.3L1057.4 371.6L1058.2 372L1059.1 372.4L1059.9 372.9L1060.8 373.4L1061.6 374L1062.4 374.6L1063.2 375.3L1063.9 376.1L1064.6 377L1064.6 377L1064 376.1L1063.4 375.2L1062.8 374.4L1062.2 373.6L1061.6 372.8L1061 372L1060.5 371.3L1060 370.6L1059.5 370L1059 369.4L1058.5 368.8L1058 368.3L1057.6 367.7L1057.1 367.2L1056.7 366.7L1056.2 366.1L1055.7 365.7L1055.2 365.2L1054.8 364.7L1054.3 364.2L1053.7 363.8L1053.2 363.4L1052.7 362.9L1052.1 362.5L1051.5 362.2L1051 361.8L1050.4 361.4L1049.7 361.1L1049.1 360.7L1048.4 360.4L1047.7 360.1L1047.1 359.9L1046.4 359.6L1045.7 359.4L1045 359.2L1044.3 359L1043.7 358.9L1043 358.7L1042.3 358.6L1041.6 358.5L1041 358.4L1040.3 358.3L1039.7 358.2L1039 358.2L1038.4 358.1L1037.7 358.1L1037.1 358.1L1036.5 358.1L1036 358.1L1035.5 358.1L1035 358.1L1034.5 358.1L1033.9 358.1L1033.4 358.1L1032.7 358.1L1032.1 358.2L1031.4 358.2L1030.7 358.3L1030 358.4L1029.3 358.6L1028.5 358.8L1027.8 359L1027 359.3L1026.2 359.6L1025.5 360L1024.7 360.4L1023.9 360.9L1023.2 361.4L1022.5 361.9L1021.8 362.4L1021.1 362.9L1020.5 363.5L1019.8 364.1L1019.1 364.7L1018.4 365.4L1017.7 366.1L1017 366.8L1016.3 367.5L1015.6 368.3L1014.8 369.1L1014.1 369.9L1013.4 370.8L1012.7 371.7L1012 372.7L1011.2 373.7L1010.5 374.7L1009.8 375.7L1009 376.8L1008.3 378L1007.5 379.2L1006.8 380.4L1006 381.7L1005.2 383.1L1004.4 384.4L1003.6 385.9L1002.8 387.3L1002 388.8L1001.2 390.3L1000.5 391.8L999.7 393.3L998.9 394.8L998.1 396.3L997.4 397.9L996.6 399.4L995.9 400.9L995.2 402.3L994.5 403.8L993.8 405.2L993.1 406.7L992.5 408.1L991.9 409.5L991.3 411L990.7 412.4L990.1 413.8L989.5 415.2L988.9 416.6L988.4 418L987.8 419.4L987.3 420.8L986.8 422.2L986.2 423.6L985.7 425L985.2 426.4L984.7 427.8L984.2 429.1L983.6 430.5L983.1 431.9L982.6 433.2L982 434.6L981.5 436L980.9 437.4L980.4 438.8L979.8 440.2L979.3 441.5L978.7 442.9L978.2 444.3L977.6 445.7L977.1 447.1L976.5 448.5L976 449.9L975.4 451.2L974.9 452.6L974.3 454L973.8 455.4L973.2 456.8L972.7 458.2L972.1 459.5L971.6 460.9L971 462.3L970.4 463.7L969.9 465.1L969.4 466.5L968.8 467.9L968.3 469.3L967.8 470.7L967.2 472.1L966.7 473.5L966.2 474.8L965.6 476.2L965.1 477.6L964.6 478.9L964 480.3L963.5 481.6L962.9 483L962.3 484.4L961.8 485.7L961.2 487.1L960.6 488.4L959.9 489.8L959.3 491.3L958.6 492.8L957.9 494.3L957.3 495.8L956.6 497.3L955.9 498.9L955.2 500.4L954.5 501.9L953.8 503.4L953.1 504.8L952.5 506.2L951.8 507.6L951.1 508.9L950.4 510.1L949.8 511.3L949.2 512.4L948.5 513.3L948 514.2L947.4 515L946.8 515.7L946.3 516.4L945.7 517L945.1 517.6L944.6 518.2L944 518.7L943.5 519.2L943 519.6L942.5 520L942 520.4L941.7 520.7L941.3 521.1L941 521.5L940.7 521.8L940.4 522.2L940.1 522.5L939.8 522.8L939.5 523.1L939.2 523.3L938.9 523.5L938.6 523.7L938.2 523.9L937.7 524L937.1 524L936.4 523.9L935.6 523.7L934.8 523.4L933.9 523.1L932.9 522.7L932 522.2L931 521.7L930.1 521.1L929.1 520.5L928.2 519.8L927.3 519.1L926.4 518.4L925.6 517.6L924.8 516.8L924.1 516L923.4 515.1L922.8 514.2L922.3 513.2L921.9 512.2Z" fill="#753a96"/>
<path d="M1114.9 501.1L1115.6 501.7L1116.3 502.3L1116.9 502.8L1117.6 503.3L1118.2 503.8L1118.9 504.3L1119.5 504.7L1120.1 505.1L1120.7 505.5L1121.2 505.9L1121.8 506.3L1122.3 506.6L1122.8 507L1123.4 507.3L1123.9 507.6L1124.4 507.9L1124.9 508.2L1125.5 508.5L1126 508.8L1126.5 509L1127.1 509.2L1127.7 509.5L1128.2 509.6L1128.8 509.8L1129.4 510L1130 510.1L1130.6 510.2L1131.2 510.3L1131.8 510.4L1132.4 510.4L1133 510.5L1133.6 510.5L1134.2 510.5L1134.8 510.5L1135.4 510.5L1136.1 510.4L1136.7 510.4L1137.4 510.3L1138.1 510.3L1138.7 510.2L1139.4 510.1L1140.1 509.9L1140.8 509.8L1141.5 509.6L1142.3 509.4L1143 509.2L1143.7 509L1144.4 508.7L1145.2 508.5L1145.9 508.2L1146.6 507.8L1147.4 507.5L1148 507.1L1148.7 506.8L1149.3 506.4L1150 506L1150.6 505.6L1151.3 505.2L1151.9 504.7L1152.6 504.3L1153.2 503.8L1153.9 503.3L1154.6 502.8L1155.2 502.2L1155.9 501.6L1156.5 501L1157.2 500.4L1157.9 499.7L1158.5 499L1159.1 498.2L1159.8 497.5L1160.4 496.7L1161 495.9L1161.6 495L1162.2 494.2L1162.7 493.3L1163.3 492.4L1163.9 491.5L1164.4 490.6L1165 489.6L1165.5 488.6L1166.1 487.6L1166.6 486.6L1167.1 485.5L1167.7 484.4L1168.2 483.3L1168.7 482.2L1169.2 481.1L1169.7 479.9L1170.1 478.7L1170.6 477.5L1171.1 476.3L1171.5 475.1L1172 473.8L1172.4 472.5L1172.8 471.1L1173.3 469.8L1173.7 468.4L1174.1 467L1174.4 465.5L1174.8 464.1L1175.2 462.6L1175.6 461.2L1175.9 459.7L1176.3 458.2L1176.6 456.7L1176.9 455.2L1177.3 453.8L1177.6 452.3L1177.9 450.8L1178.2 449.4L1178.5 448L1178.8 446.6L1179.1 445.1L1179.3 443.7L1179.6 442.3L1179.8 440.9L1180.1 439.4L1180.3 438L1180.5 436.6L1180.8 435.2L1181 433.8L1181.2 432.4L1181.4 431L1181.6 429.6L1181.8 428.2L1181.9 426.8L1182.1 425.4L1182.3 424L1182.5 422.6L1182.6 421.2L1182.8 419.8L1183 418.4L1183.1 417L1183.3 415.6L1183.4 414.1L1183.6 412.7L1183.7 411.3L1183.8 409.9L1184 408.5L1184.1 407.1L1184.2 405.7L1184.3 404.3L1184.4 402.9L1184.5 401.5L1184.6 400.1L1184.8 398.7L1184.9 397.3L1185 395.9L1185.1 394.6L1185.2 393.2L1185.3 391.8L1185.4 390.5L1185.5 389.1L1185.6 387.8L1185.7 386.5L1185.8 385.2L1185.8 383.9L1185.9 382.7L1186 381.5L1186.1 380.2L1186.1 379L1186.2 377.8L1186.3 376.5L1186.4 375.3L1186.5 374L1186.6 372.6L1186.7 371.3L1186.8 369.8L1186.9 368.4L1187 366.9L1187.1 365.3L1187.3 363.6L1187.4 361.9L1187.6 360L1187.8 358.1L1188 356L1188.2 353.9L1188.4 351.8L1188.6 349.6L1188.8 347.4L1189 345.1L1189.2 342.9L1189.5 340.6L1189.7 338.4L1189.9 336.1L1190.2 334L1190.4 331.8L1190.6 329.8L1190.8 327.8L1191 325.8L1191.2 324L1191.5 322.3L1191.7 320.7L1191.8 319.1L1192 317.5L1192.2 316L1192.4 314.6L1192.6 313.2L1192.8 311.8L1193 310.5L1193.1 309.3L1193.3 308L1193.5 306.8L1193.7 305.6L1193.9 304.5L1194 303.4L1194.2 302.3L1194.4 301.3L1194.6 300.3L1194.8 299.2L1195 298.3L1195.2 297.3L1195.5 296.3L1195.7 295.4L1195.9 294.6L1196.1 293.8L1196.3 293.1L1196.5 292.3L1196.7 291.6L1196.9 291L1197.1 290.4L1197.3 289.7L1197.5 289.1L1197.7 288.5L1198 287.9L1198.2 287.3L1198.5 286.7L1198.7 286.1L1199 285.5L1199.3 284.8L1199.6 284.1L1200 283.4L1200.3 282.7L1200.7 282L1201 281.2L1201.4 280.5L1201.8 279.8L1202.2 279L1202.6 278.3L1203 277.5L1203.4 276.8L1203.8 276.1L1204.2 275.4L1204.7 274.7L1205.1 274L1205.5 273.3L1206 272.7L1206.4 272L1206.9 271.4L1207.3 270.8L1207.8 270.2L1208.3 269.7L1208.7 269.1L1209.3 268.5L1209.8 268L1210.3 267.4L1210.9 266.9L1211.5 266.3L1212 265.8L1212.6 265.2L1213.2 264.7L1213.8 264.2L1214.4 263.7L1215 263.2L1215.6 262.7L1216.2 262.3L1216.8 261.9L1217.4 261.5L1218 261.1L1218.5 260.8L1219 260.5L1219.6 260.2L1220 259.9L1220.5 259.7L1221 259.4L1221.4 259.2L1221.9 259L1222.3 258.9L1222.8 258.7L1223.2 258.6L1223.6 258.5L1224 258.4L1224.5 258.3L1224.9 258.2L1225.4 258.1L1225.8 258.1L1226.3 258L1226.7 258L1227.2 258L1227.7 258L1228.3 258L1228.8 258L1229.3 258L1229.9 258.1L1230.5 258.1L1231 258.2L1231.6 258.2L1232.2 258.2L1232.8 258.1L1233.4 258L1234.1 257.9L1234.7 257.8L1235.4 257.7L1236.1 257.6L1236.9 257.4L1237.6 257.3L1238.4 257.1L1239.2 256.9L1240 256.8L1240.9 256.7L1241.7 256.5L1242.6 256.4L1243.5 256.4L1244.5 256.3L1245.4 256.3L1246.4 256.3L1247.4 256.4L1248.4 256.5L1249.5 256.6L1250.5 256.8L1251.5 257L1252.4 257.3L1253.4 257.6L1254.3 258L1255.2 258.5L1256.1 259L1256.9 259.6L1257.6 260.2L1257.6 260.2L1256.9 259.5L1256.2 258.9L1255.5 258.2L1254.7 257.6L1254 256.9L1253.2 256.3L1252.5 255.7L1251.7 255.1L1251 254.6L1250.2 254L1249.4 253.5L1248.6 253L1247.8 252.5L1247 252L1246.2 251.6L1245.4 251.1L1244.6 250.7L1243.8 250.3L1243 250L1242.1 249.6L1241.3 249.3L1240.5 249L1239.6 248.8L1238.8 248.5L1238 248.3L1237.2 248.1L1236.3 247.9L1235.5 247.7L1234.7 247.6L1233.9 247.4L1233.1 247.3L1232.3 247.2L1231.5 247.1L1230.7 247.1L1230 247L1229.2 247L1228.4 247L1227.7 247L1227 247L1226.2 247L1225.5 247.1L1224.7 247.1L1224 247.2L1223.3 247.3L1222.5 247.4L1221.8 247.5L1221 247.7L1220.3 247.9L1219.5 248.1L1218.8 248.3L1218 248.6L1217.3 248.9L1216.5 249.2L1215.8 249.5L1215 249.9L1214.2 250.2L1213.5 250.6L1212.7 251.1L1211.9 251.5L1211.2 252L1210.4 252.5L1209.6 253.1L1208.9 253.6L1208.1 254.2L1207.4 254.8L1206.6 255.4L1205.8 256L1205.1 256.6L1204.4 257.3L1203.6 257.9L1202.9 258.6L1202.2 259.3L1201.5 260L1200.8 260.7L1200.2 261.4L1199.5 262.1L1198.9 262.9L1198.3 263.6L1197.7 264.4L1197.1 265.2L1196.5 266L1195.9 266.8L1195.4 267.7L1194.8 268.5L1194.3 269.3L1193.8 270.2L1193.3 271L1192.8 271.8L1192.4 272.7L1191.9 273.5L1191.5 274.3L1191 275.2L1190.6 276L1190.2 276.8L1189.8 277.6L1189.4 278.4L1189.1 279.1L1188.7 279.9L1188.4 280.6L1188 281.4L1187.7 282.1L1187.4 282.8L1187.1 283.6L1186.8 284.3L1186.5 285.1L1186.2 285.8L1186 286.6L1185.7 287.4L1185.4 288.2L1185.2 289.1L1184.9 289.9L1184.7 290.8L1184.5 291.7L1184.2 292.7L1184 293.7L1183.8 294.7L1183.5 295.8L1183.3 296.9L1183.1 298L1182.9 299.1L1182.6 300.2L1182.4 301.4L1182.2 302.6L1182 303.8L1181.8 305L1181.7 306.3L1181.5 307.6L1181.3 308.9L1181.1 310.3L1180.9 311.6L1180.7 313.1L1180.5 314.6L1180.3 316.1L1180.1 317.6L1179.9 319.2L1179.7 320.9L1179.5 322.6L1179.3 324.5L1179.1 326.5L1178.9 328.5L1178.7 330.6L1178.4 332.7L1178.2 334.9L1178 337.2L1177.7 339.4L1177.5 341.7L1177.3 344L1177.1 346.2L1176.8 348.5L1176.6 350.7L1176.4 352.8L1176.2 354.9L1176 357L1175.9 358.9L1175.7 360.8L1175.5 362.6L1175.4 364.3L1175.2 365.9L1175.1 367.5L1175 369L1174.9 370.4L1174.8 371.8L1174.7 373.2L1174.6 374.5L1174.5 375.8L1174.5 377L1174.4 378.3L1174.3 379.5L1174.2 380.7L1174.1 382L1174.1 383.2L1174 384.4L1173.9 385.7L1173.8 386.9L1173.7 388.2L1173.6 389.5L1173.5 390.9L1173.4 392.3L1173.3 393.7L1173.2 395L1173.1 396.4L1173 397.8L1172.9 399.2L1172.8 400.6L1172.7 401.9L1172.6 403.3L1172.4 404.7L1172.3 406.1L1172.2 407.5L1172.1 408.8L1172 410.2L1171.8 411.6L1171.7 412.9L1171.5 414.3L1171.4 415.7L1171.2 417L1171.1 418.4L1170.9 419.8L1170.8 421.1L1170.6 422.5L1170.4 423.9L1170.2 425.3L1170.1 426.6L1169.9 428L1169.7 429.4L1169.5 430.7L1169.3 432.1L1169.1 433.4L1168.9 434.8L1168.7 436.1L1168.5 437.5L1168.2 438.9L1168 440.2L1167.7 441.6L1167.5 442.9L1167.2 444.2L1166.9 445.6L1166.7 447L1166.4 448.4L1166.1 449.8L1165.8 451.3L1165.5 452.7L1165.1 454.1L1164.8 455.5L1164.5 457L1164.1 458.4L1163.8 459.8L1163.4 461.1L1163.1 462.5L1162.7 463.8L1162.4 465.1L1162 466.4L1161.6 467.7L1161.2 468.9L1160.9 470L1160.5 471.1L1160.1 472.2L1159.7 473.3L1159.3 474.4L1158.8 475.4L1158.4 476.5L1158 477.5L1157.5 478.5L1157.1 479.4L1156.6 480.4L1156.2 481.3L1155.7 482.2L1155.3 483.1L1154.8 483.9L1154.3 484.7L1153.9 485.5L1153.4 486.3L1153 487.1L1152.5 487.8L1152 488.5L1151.6 489.1L1151.2 489.7L1150.7 490.3L1150.3 490.8L1149.9 491.4L1149.4 491.9L1149 492.3L1148.6 492.8L1148.1 493.2L1147.7 493.6L1147.2 494L1146.8 494.4L1146.3 494.8L1145.9 495.1L1145.4 495.5L1144.9 495.8L1144.5 496.1L1144 496.4L1143.5 496.7L1143 497L1142.6 497.3L1142.1 497.5L1141.7 497.7L1141.3 497.9L1140.9 498.1L1140.5 498.3L1140.1 498.5L1139.6 498.6L1139.2 498.7L1138.8 498.9L1138.4 499.1L1137.9 499.2L1137.5 499.5L1137.1 499.7L1136.7 499.9L1136.3 500.2L1135.8 500.4L1135.4 500.7L1135 501L1134.6 501.2L1134.2 501.5L1133.8 501.7L1133.4 502L1133 502.2L1132.7 502.4L1132.3 502.6L1132 502.8L1131.6 503L1131.2 503.2L1130.8 503.4L1130.4 503.5L1129.9 503.6L1129.4 503.7L1128.9 503.8L1128.4 503.9L1127.9 504L1127.3 504L1126.7 504.1L1126 504.1L1125.4 504.1L1124.7 504.1L1124 504.1L1123.3 504.1L1122.5 504L1121.8 503.9L1121 503.8L1120.2 503.7L1119.4 503.5L1118.7 503.2L1117.9 502.9L1117.1 502.6L1116.3 502.2L1115.6 501.7L1114.9 501.1Z" fill="#753a96"/>
<path d="M1326.2 462.6L1326.9 463.2L1327.5 463.8L1328.2 464.4L1328.9 464.9L1329.6 465.4L1330.2 465.9L1330.9 466.4L1331.6 466.8L1332.3 467.3L1333 467.7L1333.7 468.1L1334.4 468.5L1335.2 468.8L1335.9 469.2L1336.7 469.5L1337.4 469.8L1338.2 470.1L1339 470.3L1339.8 470.5L1340.6 470.7L1341.4 470.9L1342.3 471L1343.1 471.1L1344 471.2L1344.8 471.2L1345.7 471.2L1346.5 471.2L1347.4 471.2L1348.2 471.1L1349.1 471L1349.9 470.9L1350.8 470.8L1351.7 470.6L1352.5 470.4L1353.4 470.2L1354.3 469.9L1355.2 469.7L1356 469.4L1356.9 469.1L1357.7 468.7L1358.6 468.4L1359.5 468L1360.3 467.6L1361.1 467.1L1362 466.7L1362.8 466.2L1363.6 465.6L1364.4 465.1L1365.2 464.5L1366 463.9L1366.8 463.3L1367.6 462.7L1368.4 462.1L1369.1 461.4L1369.9 460.7L1370.7 460L1371.4 459.3L1372.1 458.5L1372.9 457.8L1373.6 457L1374.3 456.3L1375 455.5L1375.7 454.7L1376.4 453.9L1377.1 453L1377.8 452.2L1378.5 451.3L1379.2 450.3L1379.9 449.4L1380.5 448.4L1381.2 447.4L1381.9 446.4L1382.5 445.4L1383.2 444.4L1383.8 443.4L1384.4 442.4L1385 441.4L1385.6 440.4L1386.2 439.4L1386.8 438.4L1387.3 437.5L1387.9 436.5L1388.4 435.6L1388.9 434.7L1389.4 433.9L1389.8 433L1390.3 432.2L1390.7 431.5L1391.1 430.7L1391.5 430L1391.9 429.3L1392.3 428.6L1392.6 427.9L1393 427.2L1393.3 426.5L1393.6 425.8L1394 425.1L1394.3 424.3L1394.7 423.6L1395 422.8L1395.4 421.9L1395.7 421.1L1396.1 420.2L1396.5 419.2L1396.9 418.2L1397.4 417.1L1397.8 416L1398.3 414.9L1398.7 413.7L1399.2 412.5L1399.7 411.2L1400.2 409.9L1400.7 408.6L1401.2 407.3L1401.7 405.9L1402.2 404.6L1402.7 403.2L1403.2 401.8L1403.7 400.3L1404.2 398.9L1404.7 397.5L1405.2 396.1L1405.6 394.6L1406.1 393.2L1406.5 391.8L1406.9 390.4L1407.3 389.1L1407.7 387.7L1408.1 386.3L1408.5 385L1408.8 383.7L1409.2 382.3L1409.5 381L1409.9 379.6L1410.2 378.2L1410.6 376.8L1410.9 375.4L1411.2 374L1411.6 372.5L1411.9 371L1412.3 369.5L1412.7 367.9L1413 366.3L1413.4 364.6L1413.8 362.8L1414.3 361L1414.7 359.1L1415.1 357.1L1415.6 355L1416 352.9L1416.5 350.8L1416.9 348.6L1417.4 346.4L1417.8 344.2L1418.3 342L1418.8 339.7L1419.3 337.5L1419.7 335.2L1420.2 333L1420.7 330.8L1421.2 328.6L1421.6 326.5L1422.1 324.4L1422.6 322.4L1423 320.5L1423.5 318.5L1423.9 316.6L1424.4 314.7L1424.8 312.9L1425.3 311.1L1425.7 309.3L1426.2 307.5L1426.6 305.7L1427 304L1427.5 302.3L1427.9 300.5L1428.4 298.8L1428.8 297.1L1429.3 295.4L1429.8 293.7L1430.3 292L1430.8 290.3L1431.3 288.6L1431.8 286.8L1432.4 285.1L1433 283.3L1433.5 281.5L1434.1 279.8L1434.7 278L1435.3 276.2L1435.9 274.5L1436.6 272.7L1437.2 270.9L1437.8 269.2L1438.5 267.4L1439.2 265.6L1439.8 263.9L1440.5 262.1L1441.2 260.3L1441.9 258.6L1442.6 256.8L1443.3 255L1444.1 253.3L1444.8 251.5L1445.6 249.7L1446.4 247.9L1447.1 246.1L1447.9 244.2L1448.7 242.4L1449.5 240.5L1450.4 238.7L1451.2 236.8L1452 235L1452.9 233.1L1453.7 231.3L1454.6 229.5L1455.4 227.7L1456.3 226L1457.2 224.2L1458.1 222.6L1459 220.9L1459.9 219.3L1460.8 217.7L1461.7 216.2L1462.6 214.8L1463.6 213.4L1464.6 212L1465.6 210.6L1466.6 209.3L1467.6 207.9L1468.6 206.6L1469.7 205.4L1470.8 204.1L1471.9 202.9L1473 201.7L1474.1 200.5L1475.2 199.3L1476.3 198.2L1477.4 197.1L1478.5 196L1479.6 194.9L1480.7 193.9L1481.9 192.9L1483 191.9L1484 190.9L1485.1 190L1486.2 189.1L1487.2 188.2L1488.3 187.4L1489.4 186.6L1490.4 185.8L1491.5 185L1492.5 184.3L1493.6 183.6L1494.6 182.9L1495.7 182.2L1496.7 181.6L1497.8 181L1498.8 180.4L1499.9 179.8L1500.9 179.3L1502 178.8L1503 178.3L1504.1 177.8L1505.1 177.4L1506.1 177L1507.2 176.6L1508.2 176.2L1509.3 175.9L1510.3 175.6L1511.4 175.3L1512.4 175L1513.5 174.8L1514.6 174.5L1515.6 174.3L1516.7 174.1L1517.8 174L1518.8 173.8L1519.9 173.7L1521 173.6L1522 173.5L1523.1 173.5L1524.1 173.4L1525.2 173.4L1526.2 173.4L1527.2 173.4L1528.3 173.4L1529.3 173.5L1530.4 173.5L1531.4 173.6L1532.4 173.7L1533.5 173.8L1534.5 174L1535.5 174.1L1536.5 174.3L1537.5 174.5L1538.4 174.7L1539.4 175L1540.3 175.2L1541.2 175.5L1542 175.8L1542.8 176.1L1543.6 176.5L1544.4 176.8L1545.1 177.2L1545.8 177.6L1546.4 178L1547.1 178.4L1547.7 178.9L1548.4 179.5L1549 180L1549.7 180.6L1550.3 181.2L1550.9 181.8L1551.6 182.5L1552.2 183.1L1552.8 183.8L1553.4 184.5L1553.9 185.3L1554.5 186L1555.1 186.7L1555.6 187.5L1556.1 188.3L1556.6 189L1557.1 189.7L1557.5 190.4L1557.9 191.1L1558.3 191.9L1558.7 192.7L1559.1 193.5L1559.4 194.4L1559.8 195.3L1560.2 196.3L1560.5 197.2L1560.8 198.2L1561.2 199.2L1561.5 200.1L1561.8 201.1L1562.1 202L1562.3 202.9L1562.6 203.8L1562.9 204.6L1563.1 205.4L1563.4 206.2L1563.7 206.9L1563.9 207.5L1564 208L1564.2 208.5L1564.3 208.9L1564.4 209.3L1564.5 209.7L1564.6 210L1564.7 210.3L1564.8 210.5L1564.8 210.8L1564.9 211L1564.9 211.2L1564.9 211.4L1565 211.6L1565 211.8L1565.1 212L1565.1 212.3L1565.2 212.5L1565.2 212.8L1565.3 213.1L1576.7 210.1L1576.7 210L1576.7 210L1576.6 209.9L1576.6 209.8L1576.6 209.6L1576.5 209.4L1576.5 209.1L1576.4 208.8L1576.4 208.5L1576.3 208.1L1576.2 207.8L1576.1 207.4L1576 206.9L1575.8 206.5L1575.7 206L1575.5 205.4L1575.4 204.9L1575.2 204.3L1575 203.7L1574.7 203.1L1574.5 202.5L1574.3 201.8L1574.1 201.1L1573.8 200.3L1573.6 199.4L1573.3 198.5L1573 197.5L1572.6 196.5L1572.3 195.4L1571.9 194.4L1571.5 193.3L1571.1 192.2L1570.7 191.1L1570.3 190L1569.8 188.8L1569.3 187.7L1568.7 186.6L1568.1 185.5L1567.5 184.5L1566.9 183.5L1566.3 182.5L1565.7 181.6L1565 180.8L1564.4 179.9L1563.7 179L1563 178.1L1562.3 177.2L1561.5 176.3L1560.7 175.4L1559.9 174.6L1559.1 173.7L1558.2 172.9L1557.4 172.1L1556.4 171.3L1555.5 170.5L1554.5 169.8L1553.5 169.1L1552.5 168.4L1551.4 167.8L1550.3 167.2L1549.2 166.7L1548.1 166.2L1546.9 165.7L1545.8 165.3L1544.6 164.9L1543.4 164.6L1542.2 164.2L1541 163.9L1539.7 163.7L1538.5 163.4L1537.3 163.2L1536 163L1534.8 162.9L1533.6 162.8L1532.3 162.6L1531.1 162.6L1529.9 162.5L1528.6 162.4L1527.4 162.4L1526.2 162.4L1525 162.4L1523.8 162.4L1522.5 162.5L1521.3 162.6L1520.1 162.6L1518.8 162.8L1517.5 162.9L1516.3 163L1515 163.2L1513.7 163.4L1512.4 163.7L1511.2 163.9L1509.9 164.2L1508.6 164.5L1507.3 164.9L1506 165.2L1504.7 165.6L1503.4 166.1L1502.2 166.5L1500.9 167L1499.6 167.5L1498.4 168.1L1497.2 168.6L1495.9 169.2L1494.7 169.8L1493.5 170.5L1492.2 171.2L1491 171.9L1489.8 172.6L1488.6 173.3L1487.4 174.1L1486.2 174.9L1484.9 175.7L1483.7 176.6L1482.5 177.5L1481.3 178.4L1480.1 179.3L1478.9 180.3L1477.7 181.3L1476.6 182.3L1475.4 183.3L1474.2 184.4L1473 185.5L1471.8 186.6L1470.6 187.7L1469.4 188.9L1468.2 190.1L1466.9 191.3L1465.7 192.6L1464.5 193.9L1463.3 195.2L1462.1 196.5L1460.9 197.9L1459.7 199.3L1458.6 200.7L1457.4 202.2L1456.3 203.7L1455.1 205.2L1454 206.8L1453 208.4L1451.9 210.1L1450.8 211.7L1449.8 213.5L1448.8 215.2L1447.8 217L1446.9 218.8L1445.9 220.7L1445 222.6L1444.1 224.4L1443.1 226.3L1442.3 228.2L1441.4 230.1L1440.5 232L1439.7 233.9L1438.8 235.8L1438 237.7L1437.2 239.6L1436.4 241.4L1435.6 243.3L1434.8 245.1L1434 246.9L1433.3 248.7L1432.5 250.5L1431.8 252.4L1431 254.2L1430.3 256L1429.6 257.8L1428.9 259.7L1428.2 261.5L1427.5 263.3L1426.8 265.1L1426.2 267L1425.5 268.8L1424.9 270.6L1424.2 272.4L1423.6 274.2L1423 276.1L1422.4 277.9L1421.8 279.7L1421.2 281.5L1420.6 283.3L1420.1 285.1L1419.5 286.9L1419 288.7L1418.5 290.5L1418 292.3L1417.5 294L1417 295.8L1416.6 297.6L1416.1 299.3L1415.6 301.1L1415.2 302.9L1414.7 304.7L1414.3 306.5L1413.8 308.3L1413.4 310.1L1413 312L1412.5 313.9L1412 315.8L1411.6 317.7L1411.1 319.8L1410.6 321.8L1410.1 323.9L1409.7 326.1L1409.2 328.3L1408.7 330.5L1408.2 332.8L1407.7 335L1407.3 337.3L1406.8 339.5L1406.3 341.8L1405.9 344L1405.4 346.2L1404.9 348.4L1404.5 350.5L1404.1 352.6L1403.6 354.6L1403.2 356.5L1402.8 358.4L1402.4 360.2L1402 361.9L1401.6 363.6L1401.2 365.2L1400.8 366.8L1400.5 368.4L1400.1 369.8L1399.8 371.3L1399.5 372.7L1399.1 374.1L1398.8 375.4L1398.5 376.8L1398.1 378.1L1397.8 379.4L1397.5 380.6L1397.1 381.9L1396.8 383.2L1396.4 384.5L1396.1 385.8L1395.7 387.1L1395.3 388.4L1394.9 389.7L1394.4 391.1L1394 392.4L1393.6 393.8L1393.1 395.1L1392.6 396.5L1392.2 397.8L1391.7 399.2L1391.2 400.5L1390.7 401.9L1390.2 403.2L1389.7 404.5L1389.2 405.8L1388.8 407L1388.3 408.2L1387.8 409.4L1387.4 410.6L1386.9 411.7L1386.5 412.8L1386.1 413.8L1385.7 414.8L1385.3 415.7L1384.9 416.5L1384.6 417.4L1384.3 418.1L1384 418.8L1383.7 419.5L1383.4 420.2L1383.1 420.8L1382.8 421.4L1382.5 422L1382.2 422.7L1381.9 423.3L1381.6 423.9L1381.2 424.5L1380.9 425.2L1380.5 425.9L1380.1 426.6L1379.7 427.3L1379.2 428.1L1378.8 429L1378.3 429.9L1377.7 430.7L1377.2 431.7L1376.7 432.6L1376.2 433.5L1375.6 434.5L1375 435.4L1374.5 436.4L1373.9 437.3L1373.3 438.3L1372.7 439.2L1372.1 440.1L1371.6 441L1371 441.9L1370.4 442.7L1369.8 443.5L1369.2 444.3L1368.7 445L1368.1 445.8L1367.5 446.5L1367 447.2L1366.4 447.9L1365.8 448.5L1365.1 449.2L1364.5 449.9L1363.9 450.5L1363.3 451.1L1362.7 451.7L1362.1 452.3L1361.5 452.9L1360.9 453.4L1360.3 454L1359.7 454.5L1359.1 454.9L1358.5 455.4L1357.9 455.8L1357.3 456.2L1356.8 456.6L1356.2 456.9L1355.7 457.3L1355.1 457.6L1354.5 457.9L1354 458.2L1353.4 458.4L1352.8 458.7L1352.2 458.9L1351.7 459.1L1351.1 459.4L1350.6 459.7L1350 460L1349.5 460.4L1349 460.7L1348.4 461.1L1347.9 461.5L1347.3 461.9L1346.8 462.3L1346.2 462.6L1345.7 463L1345.1 463.4L1344.5 463.7L1343.9 464.1L1343.2 464.4L1342.6 464.7L1341.9 464.9L1341.2 465.2L1340.5 465.4L1339.7 465.6L1339 465.7L1338.2 465.8L1337.4 465.9L1336.6 466L1335.7 466L1334.9 466L1334.1 465.9L1333.2 465.8L1332.4 465.6L1331.6 465.4L1330.8 465.2L1329.9 464.9L1329.1 464.6L1328.4 464.2L1327.6 463.7L1326.9 463.2L1326.2 462.6Z" fill="#753a96"/>
</g>
</svg>
</body></html>
